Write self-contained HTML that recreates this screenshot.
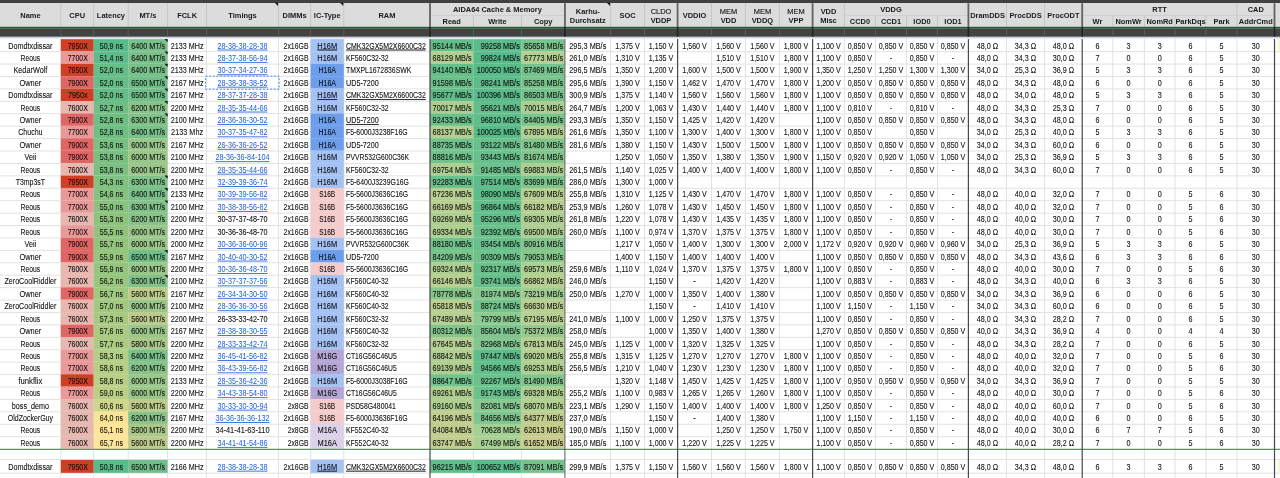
<!DOCTYPE html>
<html lang="de"><head><meta charset="utf-8"><title>DDR5 OC Tabelle</title>
<style>
html,body{margin:0;padding:0;background:#fff;overflow:hidden}
body{width:1280px;height:478px}
svg{display:block}
text{text-anchor:middle;white-space:pre}
text[text-anchor="end"]{text-anchor:end}
text[text-anchor="start"]{text-anchor:start}
.l{fill:#1c5fd4;stroke:none;text-decoration:underline}
.u{text-decoration:underline}
</style></head><body>
<svg width="1280" height="478" viewBox="0 0 1280 478" font-family="'Liberation Sans', sans-serif" font-size="7.2" fill="#222">
<rect x="0.00" y="0.00" width="1280.00" height="478.00" fill="#ffffff"/>
<rect x="0.00" y="51.15" width="1280.00" height="1.00" fill="#e2e2e2"/>
<rect x="0.00" y="63.57" width="1280.00" height="1.00" fill="#e2e2e2"/>
<rect x="0.00" y="75.99" width="1280.00" height="1.00" fill="#e2e2e2"/>
<rect x="0.00" y="88.41" width="1280.00" height="1.00" fill="#e2e2e2"/>
<rect x="0.00" y="100.83" width="1280.00" height="1.00" fill="#e2e2e2"/>
<rect x="0.00" y="113.25" width="1280.00" height="1.00" fill="#e2e2e2"/>
<rect x="0.00" y="125.67" width="1280.00" height="1.00" fill="#e2e2e2"/>
<rect x="0.00" y="138.09" width="1280.00" height="1.00" fill="#e2e2e2"/>
<rect x="0.00" y="150.51" width="1280.00" height="1.00" fill="#e2e2e2"/>
<rect x="0.00" y="162.93" width="1280.00" height="1.00" fill="#e2e2e2"/>
<rect x="0.00" y="175.35" width="1280.00" height="1.00" fill="#e2e2e2"/>
<rect x="0.00" y="187.77" width="1280.00" height="1.00" fill="#e2e2e2"/>
<rect x="0.00" y="200.19" width="1280.00" height="1.00" fill="#e2e2e2"/>
<rect x="0.00" y="212.61" width="1280.00" height="1.00" fill="#e2e2e2"/>
<rect x="0.00" y="225.03" width="1280.00" height="1.00" fill="#e2e2e2"/>
<rect x="0.00" y="237.45" width="1280.00" height="1.00" fill="#e2e2e2"/>
<rect x="0.00" y="249.87" width="1280.00" height="1.00" fill="#e2e2e2"/>
<rect x="0.00" y="262.29" width="1280.00" height="1.00" fill="#e2e2e2"/>
<rect x="0.00" y="274.71" width="1280.00" height="1.00" fill="#e2e2e2"/>
<rect x="0.00" y="287.13" width="1280.00" height="1.00" fill="#e2e2e2"/>
<rect x="0.00" y="299.55" width="1280.00" height="1.00" fill="#e2e2e2"/>
<rect x="0.00" y="311.97" width="1280.00" height="1.00" fill="#e2e2e2"/>
<rect x="0.00" y="324.39" width="1280.00" height="1.00" fill="#e2e2e2"/>
<rect x="0.00" y="336.81" width="1280.00" height="1.00" fill="#e2e2e2"/>
<rect x="0.00" y="349.23" width="1280.00" height="1.00" fill="#e2e2e2"/>
<rect x="0.00" y="361.65" width="1280.00" height="1.00" fill="#e2e2e2"/>
<rect x="0.00" y="374.07" width="1280.00" height="1.00" fill="#e2e2e2"/>
<rect x="0.00" y="386.49" width="1280.00" height="1.00" fill="#e2e2e2"/>
<rect x="0.00" y="398.91" width="1280.00" height="1.00" fill="#e2e2e2"/>
<rect x="0.00" y="411.33" width="1280.00" height="1.00" fill="#e2e2e2"/>
<rect x="0.00" y="423.75" width="1280.00" height="1.00" fill="#e2e2e2"/>
<rect x="0.00" y="436.17" width="1280.00" height="1.00" fill="#e2e2e2"/>
<rect x="0.00" y="459.10" width="1280.00" height="1.00" fill="#e2e2e2"/>
<rect x="0.00" y="472.65" width="1280.00" height="1.00" fill="#e2e2e2"/>
<rect x="60.30" y="39.00" width="1.00" height="439.00" fill="#e2e2e2"/>
<rect x="93.20" y="39.00" width="1.00" height="439.00" fill="#e2e2e2"/>
<rect x="127.70" y="39.00" width="1.00" height="439.00" fill="#e2e2e2"/>
<rect x="167.10" y="39.00" width="1.00" height="439.00" fill="#e2e2e2"/>
<rect x="206.00" y="39.00" width="1.00" height="439.00" fill="#e2e2e2"/>
<rect x="278.00" y="39.00" width="1.00" height="439.00" fill="#e2e2e2"/>
<rect x="310.10" y="39.00" width="1.00" height="439.00" fill="#e2e2e2"/>
<rect x="343.30" y="39.00" width="1.00" height="439.00" fill="#e2e2e2"/>
<rect x="472.90" y="39.00" width="1.00" height="439.00" fill="#e2e2e2"/>
<rect x="521.00" y="39.00" width="1.00" height="439.00" fill="#e2e2e2"/>
<rect x="610.10" y="39.00" width="1.00" height="439.00" fill="#e2e2e2"/>
<rect x="644.00" y="39.00" width="1.00" height="439.00" fill="#e2e2e2"/>
<rect x="711.00" y="39.00" width="1.00" height="439.00" fill="#e2e2e2"/>
<rect x="744.90" y="39.00" width="1.00" height="439.00" fill="#e2e2e2"/>
<rect x="778.90" y="39.00" width="1.00" height="439.00" fill="#e2e2e2"/>
<rect x="843.90" y="39.00" width="1.00" height="439.00" fill="#e2e2e2"/>
<rect x="874.90" y="39.00" width="1.00" height="439.00" fill="#e2e2e2"/>
<rect x="906.00" y="39.00" width="1.00" height="439.00" fill="#e2e2e2"/>
<rect x="937.00" y="39.00" width="1.00" height="439.00" fill="#e2e2e2"/>
<rect x="1006.00" y="39.00" width="1.00" height="439.00" fill="#e2e2e2"/>
<rect x="1044.10" y="39.00" width="1.00" height="439.00" fill="#e2e2e2"/>
<rect x="1112.30" y="39.00" width="1.00" height="439.00" fill="#e2e2e2"/>
<rect x="1143.90" y="39.00" width="1.00" height="439.00" fill="#e2e2e2"/>
<rect x="1174.50" y="39.00" width="1.00" height="439.00" fill="#e2e2e2"/>
<rect x="1205.50" y="39.00" width="1.00" height="439.00" fill="#e2e2e2"/>
<rect x="1236.50" y="39.00" width="1.00" height="439.00" fill="#e2e2e2"/>
<rect x="60.80" y="39.10" width="32.90" height="12.25" fill="#CC4125"/>
<rect x="93.70" y="39.10" width="34.50" height="12.25" fill="#57bb8a"/>
<rect x="128.20" y="39.10" width="39.40" height="12.25" fill="#79c08a"/>
<rect x="310.60" y="39.10" width="33.20" height="12.25" fill="#A4C2F4"/>
<rect x="430.00" y="39.10" width="43.40" height="12.25" fill="#63be89"/>
<rect x="473.40" y="39.10" width="48.10" height="12.25" fill="#5abc8a"/>
<rect x="521.50" y="39.10" width="43.00" height="12.25" fill="#78c48d"/>
<path d="M164.4 39.1H167.6V42.3z" fill="#111"/>
<rect x="60.80" y="51.35" width="32.90" height="12.42" fill="#EA9999"/>
<rect x="93.70" y="51.35" width="34.50" height="12.42" fill="#5dbc89"/>
<rect x="128.20" y="51.35" width="39.40" height="12.42" fill="#79c08a"/>
<rect x="310.60" y="51.35" width="33.20" height="12.42" fill="#A4C2F4"/>
<rect x="430.00" y="51.35" width="43.40" height="12.42" fill="#b3d092"/>
<rect x="473.40" y="51.35" width="48.10" height="12.42" fill="#58bb8a"/>
<rect x="521.50" y="51.35" width="43.00" height="12.42" fill="#b4d092"/>
<path d="M164.4 51.4H167.6V54.6z" fill="#111"/>
<rect x="60.80" y="63.77" width="32.90" height="12.42" fill="#CC4125"/>
<rect x="93.70" y="63.77" width="34.50" height="12.42" fill="#65bd87"/>
<rect x="128.20" y="63.77" width="39.40" height="12.42" fill="#79c08a"/>
<rect x="310.60" y="63.77" width="33.20" height="12.42" fill="#6D9EEB"/>
<rect x="430.00" y="63.77" width="43.40" height="12.42" fill="#65bf89"/>
<rect x="473.40" y="63.77" width="48.10" height="12.42" fill="#57bb8a"/>
<rect x="521.50" y="63.77" width="43.00" height="12.42" fill="#74c38c"/>
<path d="M164.4 63.8H167.6V67.0z" fill="#111"/>
<rect x="60.80" y="76.19" width="32.90" height="12.42" fill="#E06666"/>
<rect x="93.70" y="76.19" width="34.50" height="12.42" fill="#65bd87"/>
<rect x="128.20" y="76.19" width="39.40" height="12.42" fill="#70bf8a"/>
<rect x="310.60" y="76.19" width="33.20" height="12.42" fill="#6D9EEB"/>
<rect x="430.00" y="76.19" width="43.40" height="12.42" fill="#6bc08a"/>
<rect x="473.40" y="76.19" width="48.10" height="12.42" fill="#5cbd8a"/>
<rect x="521.50" y="76.19" width="43.00" height="12.42" fill="#79c48d"/>
<path d="M164.4 76.2H167.6V79.4z" fill="#111"/>
<rect x="60.80" y="88.61" width="32.90" height="12.42" fill="#CC4125"/>
<rect x="93.70" y="88.61" width="34.50" height="12.42" fill="#65bd87"/>
<rect x="128.20" y="88.61" width="39.40" height="12.42" fill="#70bf8a"/>
<rect x="310.60" y="88.61" width="33.20" height="12.42" fill="#A4C2F4"/>
<rect x="430.00" y="88.61" width="43.40" height="12.42" fill="#61be89"/>
<rect x="473.40" y="88.61" width="48.10" height="12.42" fill="#57bb8a"/>
<rect x="521.50" y="88.61" width="43.00" height="12.42" fill="#76c38d"/>
<path d="M164.4 88.6H167.6V91.8z" fill="#111"/>
<rect x="60.80" y="101.03" width="32.90" height="12.42" fill="#E6B8AF"/>
<rect x="93.70" y="101.03" width="34.50" height="12.42" fill="#6ebe85"/>
<rect x="128.20" y="101.03" width="39.40" height="12.42" fill="#89c38a"/>
<rect x="310.60" y="101.03" width="33.20" height="12.42" fill="#A4C2F4"/>
<rect x="430.00" y="101.03" width="43.40" height="12.42" fill="#accf91"/>
<rect x="473.40" y="101.03" width="48.10" height="12.42" fill="#63be8b"/>
<rect x="521.50" y="101.03" width="43.00" height="12.42" fill="#accf91"/>
<path d="M164.4 101.0H167.6V104.2z" fill="#111"/>
<rect x="60.80" y="113.45" width="32.90" height="12.42" fill="#E06666"/>
<rect x="93.70" y="113.45" width="34.50" height="12.42" fill="#6fbf85"/>
<rect x="128.20" y="113.45" width="39.40" height="12.42" fill="#81c28a"/>
<rect x="310.60" y="113.45" width="33.20" height="12.42" fill="#6D9EEB"/>
<rect x="430.00" y="113.45" width="43.40" height="12.42" fill="#69c08a"/>
<rect x="473.40" y="113.45" width="48.10" height="12.42" fill="#60be8b"/>
<rect x="521.50" y="113.45" width="43.00" height="12.42" fill="#7bc48d"/>
<path d="M164.4 113.5H167.6V116.7z" fill="#111"/>
<rect x="60.80" y="125.87" width="32.90" height="12.42" fill="#EA9999"/>
<rect x="93.70" y="125.87" width="34.50" height="12.42" fill="#6fbf85"/>
<rect x="128.20" y="125.87" width="39.40" height="12.42" fill="#79c08a"/>
<rect x="310.60" y="125.87" width="33.20" height="12.42" fill="#6D9EEB"/>
<rect x="430.00" y="125.87" width="43.40" height="12.42" fill="#b3d092"/>
<rect x="473.40" y="125.87" width="48.10" height="12.42" fill="#57bb8a"/>
<rect x="521.50" y="125.87" width="43.00" height="12.42" fill="#b4d092"/>
<rect x="60.80" y="138.29" width="32.90" height="12.42" fill="#E06666"/>
<rect x="93.70" y="138.29" width="34.50" height="12.42" fill="#79c083"/>
<rect x="128.20" y="138.29" width="39.40" height="12.42" fill="#9ac68a"/>
<rect x="310.60" y="138.29" width="33.20" height="12.42" fill="#6D9EEB"/>
<rect x="430.00" y="138.29" width="43.40" height="12.42" fill="#71c28c"/>
<rect x="473.40" y="138.29" width="48.10" height="12.42" fill="#69c08c"/>
<rect x="521.50" y="138.29" width="43.00" height="12.42" fill="#81c58c"/>
<rect x="60.80" y="150.71" width="32.90" height="12.42" fill="#E06666"/>
<rect x="93.70" y="150.71" width="34.50" height="12.42" fill="#7bc082"/>
<rect x="128.20" y="150.71" width="39.40" height="12.42" fill="#9ac68a"/>
<rect x="310.60" y="150.71" width="33.20" height="12.42" fill="#A4C2F4"/>
<rect x="430.00" y="150.71" width="43.40" height="12.42" fill="#71c28c"/>
<rect x="473.40" y="150.71" width="48.10" height="12.42" fill="#68c08c"/>
<rect x="521.50" y="150.71" width="43.00" height="12.42" fill="#80c58c"/>
<rect x="60.80" y="163.13" width="32.90" height="12.42" fill="#E6B8AF"/>
<rect x="93.70" y="163.13" width="34.50" height="12.42" fill="#7bc082"/>
<rect x="128.20" y="163.13" width="39.40" height="12.42" fill="#9ac68a"/>
<rect x="310.60" y="163.13" width="33.20" height="12.42" fill="#A4C2F4"/>
<rect x="430.00" y="163.13" width="43.40" height="12.42" fill="#adcf91"/>
<rect x="473.40" y="163.13" width="48.10" height="12.42" fill="#6dc18c"/>
<rect x="521.50" y="163.13" width="43.00" height="12.42" fill="#accf91"/>
<rect x="60.80" y="175.55" width="32.90" height="12.42" fill="#CC4125"/>
<rect x="93.70" y="175.55" width="34.50" height="12.42" fill="#81c181"/>
<rect x="128.20" y="175.55" width="39.40" height="12.42" fill="#81c28a"/>
<rect x="310.60" y="175.55" width="33.20" height="12.42" fill="#A4C2F4"/>
<rect x="430.00" y="175.55" width="43.40" height="12.42" fill="#69c08a"/>
<rect x="473.40" y="175.55" width="48.10" height="12.42" fill="#5ebd8a"/>
<rect x="521.50" y="175.55" width="43.00" height="12.42" fill="#7cc58c"/>
<path d="M164.4 175.6H167.6V178.8z" fill="#111"/>
<rect x="60.80" y="187.97" width="32.90" height="12.42" fill="#EA9999"/>
<rect x="93.70" y="187.97" width="34.50" height="12.42" fill="#85c280"/>
<rect x="128.20" y="187.97" width="39.40" height="12.42" fill="#79c08a"/>
<rect x="310.60" y="187.97" width="33.20" height="12.42" fill="#F4CCCC"/>
<rect x="430.00" y="187.97" width="43.40" height="12.42" fill="#b6d091"/>
<rect x="473.40" y="187.97" width="48.10" height="12.42" fill="#5dbd8a"/>
<rect x="521.50" y="187.97" width="43.00" height="12.42" fill="#b5d091"/>
<path d="M164.4 188.0H167.6V191.2z" fill="#111"/>
<rect x="60.80" y="200.39" width="32.90" height="12.42" fill="#EA9999"/>
<rect x="93.70" y="200.39" width="34.50" height="12.42" fill="#8ac37f"/>
<rect x="128.20" y="200.39" width="39.40" height="12.42" fill="#81c28a"/>
<rect x="310.60" y="200.39" width="33.20" height="12.42" fill="#F4CCCC"/>
<rect x="430.00" y="200.39" width="43.40" height="12.42" fill="#b9cf90"/>
<rect x="473.40" y="200.39" width="48.10" height="12.42" fill="#60be8b"/>
<rect x="521.50" y="200.39" width="43.00" height="12.42" fill="#b9cf90"/>
<path d="M164.4 200.4H167.6V203.6z" fill="#111"/>
<rect x="60.80" y="212.81" width="32.90" height="12.42" fill="#E6B8AF"/>
<rect x="93.70" y="212.81" width="34.50" height="12.42" fill="#8ec37e"/>
<rect x="128.20" y="212.81" width="39.40" height="12.42" fill="#89c38a"/>
<rect x="310.60" y="212.81" width="33.20" height="12.42" fill="#F4CCCC"/>
<rect x="430.00" y="212.81" width="43.40" height="12.42" fill="#afcf91"/>
<rect x="473.40" y="212.81" width="48.10" height="12.42" fill="#63bf8b"/>
<rect x="521.50" y="212.81" width="43.00" height="12.42" fill="#afcf91"/>
<rect x="60.80" y="225.23" width="32.90" height="12.42" fill="#EA9999"/>
<rect x="93.70" y="225.23" width="34.50" height="12.42" fill="#90c47e"/>
<rect x="128.20" y="225.23" width="39.40" height="12.42" fill="#9ac68a"/>
<rect x="310.60" y="225.23" width="33.20" height="12.42" fill="#F4CCCC"/>
<rect x="430.00" y="225.23" width="43.40" height="12.42" fill="#afcf91"/>
<rect x="473.40" y="225.23" width="48.10" height="12.42" fill="#6ac18c"/>
<rect x="521.50" y="225.23" width="43.00" height="12.42" fill="#aecf91"/>
<rect x="60.80" y="237.65" width="32.90" height="12.42" fill="#E06666"/>
<rect x="93.70" y="237.65" width="34.50" height="12.42" fill="#93c47d"/>
<rect x="128.20" y="237.65" width="39.40" height="12.42" fill="#9ac68a"/>
<rect x="310.60" y="237.65" width="33.20" height="12.42" fill="#A4C2F4"/>
<rect x="430.00" y="237.65" width="43.40" height="12.42" fill="#72c28c"/>
<rect x="473.40" y="237.65" width="48.10" height="12.42" fill="#68c08c"/>
<rect x="521.50" y="237.65" width="43.00" height="12.42" fill="#82c58c"/>
<rect x="60.80" y="250.07" width="32.90" height="12.42" fill="#E06666"/>
<rect x="93.70" y="250.07" width="34.50" height="12.42" fill="#95c57e"/>
<rect x="128.20" y="250.07" width="39.40" height="12.42" fill="#70bf8a"/>
<rect x="310.60" y="250.07" width="33.20" height="12.42" fill="#6D9EEB"/>
<rect x="430.00" y="250.07" width="43.40" height="12.42" fill="#7bc48d"/>
<rect x="473.40" y="250.07" width="48.10" height="12.42" fill="#70c28d"/>
<rect x="521.50" y="250.07" width="43.00" height="12.42" fill="#85c68b"/>
<path d="M164.4 250.1H167.6V253.3z" fill="#111"/>
<rect x="60.80" y="262.49" width="32.90" height="12.42" fill="#E6B8AF"/>
<rect x="93.70" y="262.49" width="34.50" height="12.42" fill="#95c57e"/>
<rect x="128.20" y="262.49" width="39.40" height="12.42" fill="#9ac68a"/>
<rect x="310.60" y="262.49" width="33.20" height="12.42" fill="#F4CCCC"/>
<rect x="430.00" y="262.49" width="43.40" height="12.42" fill="#afcf91"/>
<rect x="473.40" y="262.49" width="48.10" height="12.42" fill="#6bc18c"/>
<rect x="521.50" y="262.49" width="43.00" height="12.42" fill="#aecf91"/>
<rect x="60.80" y="274.91" width="32.90" height="12.42" fill="#E6B8AF"/>
<rect x="93.70" y="274.91" width="34.50" height="12.42" fill="#99c67f"/>
<rect x="128.20" y="274.91" width="39.40" height="12.42" fill="#81c28a"/>
<rect x="310.60" y="274.91" width="33.20" height="12.42" fill="#A4C2F4"/>
<rect x="430.00" y="274.91" width="43.40" height="12.42" fill="#bacf90"/>
<rect x="473.40" y="274.91" width="48.10" height="12.42" fill="#67c08b"/>
<rect x="521.50" y="274.91" width="43.00" height="12.42" fill="#b7cf91"/>
<path d="M164.4 274.9H167.6V278.1z" fill="#111"/>
<rect x="60.80" y="287.33" width="32.90" height="12.42" fill="#E06666"/>
<rect x="93.70" y="287.33" width="34.50" height="12.42" fill="#9fc880"/>
<rect x="128.20" y="287.33" width="39.40" height="12.42" fill="#bccb8a"/>
<rect x="310.60" y="287.33" width="33.20" height="12.42" fill="#A4C2F4"/>
<rect x="430.00" y="287.33" width="43.40" height="12.42" fill="#86c68b"/>
<rect x="473.40" y="287.33" width="48.10" height="12.42" fill="#85c890"/>
<rect x="521.50" y="287.33" width="43.00" height="12.42" fill="#a0cc8f"/>
<rect x="60.80" y="299.75" width="32.90" height="12.42" fill="#E6B8AF"/>
<rect x="93.70" y="299.75" width="34.50" height="12.42" fill="#a3c981"/>
<rect x="128.20" y="299.75" width="39.40" height="12.42" fill="#9ac68a"/>
<rect x="310.60" y="299.75" width="33.20" height="12.42" fill="#A4C2F4"/>
<rect x="430.00" y="299.75" width="43.40" height="12.42" fill="#bbcf90"/>
<rect x="473.40" y="299.75" width="48.10" height="12.42" fill="#74c38d"/>
<rect x="521.50" y="299.75" width="43.00" height="12.42" fill="#b8cf90"/>
<rect x="60.80" y="312.17" width="32.90" height="12.42" fill="#E6B8AF"/>
<rect x="93.70" y="312.17" width="34.50" height="12.42" fill="#a6ca82"/>
<rect x="128.20" y="312.17" width="39.40" height="12.42" fill="#bccb8a"/>
<rect x="310.60" y="312.17" width="33.20" height="12.42" fill="#A4C2F4"/>
<rect x="430.00" y="312.17" width="43.40" height="12.42" fill="#b5d091"/>
<rect x="473.40" y="312.17" width="48.10" height="12.42" fill="#8bca91"/>
<rect x="521.50" y="312.17" width="43.00" height="12.42" fill="#b6d091"/>
<rect x="60.80" y="324.59" width="32.90" height="12.42" fill="#E06666"/>
<rect x="93.70" y="324.59" width="34.50" height="12.42" fill="#aacb83"/>
<rect x="128.20" y="324.59" width="39.40" height="12.42" fill="#9ac68a"/>
<rect x="310.60" y="324.59" width="33.20" height="12.42" fill="#A4C2F4"/>
<rect x="430.00" y="324.59" width="43.40" height="12.42" fill="#83c68b"/>
<rect x="473.40" y="324.59" width="48.10" height="12.42" fill="#7cc58f"/>
<rect x="521.50" y="324.59" width="43.00" height="12.42" fill="#96ca8d"/>
<rect x="60.80" y="337.01" width="32.90" height="12.42" fill="#E6B8AF"/>
<rect x="93.70" y="337.01" width="34.50" height="12.42" fill="#abcb83"/>
<rect x="128.20" y="337.01" width="39.40" height="12.42" fill="#abc88a"/>
<rect x="310.60" y="337.01" width="33.20" height="12.42" fill="#A4C2F4"/>
<rect x="430.00" y="337.01" width="43.40" height="12.42" fill="#b5d092"/>
<rect x="473.40" y="337.01" width="48.10" height="12.42" fill="#82c790"/>
<rect x="521.50" y="337.01" width="43.00" height="12.42" fill="#b4d092"/>
<rect x="60.80" y="349.43" width="32.90" height="12.42" fill="#EA9999"/>
<rect x="93.70" y="349.43" width="34.50" height="12.42" fill="#b3ce85"/>
<rect x="128.20" y="349.43" width="39.40" height="12.42" fill="#79c08a"/>
<rect x="310.60" y="349.43" width="33.20" height="12.42" fill="#B4A7D6"/>
<rect x="430.00" y="349.43" width="43.40" height="12.42" fill="#b0cf92"/>
<rect x="473.40" y="349.43" width="48.10" height="12.42" fill="#5ebd8a"/>
<rect x="521.50" y="349.43" width="43.00" height="12.42" fill="#b0cf91"/>
<rect x="60.80" y="361.85" width="32.90" height="12.42" fill="#EA9999"/>
<rect x="93.70" y="361.85" width="34.50" height="12.42" fill="#b6cf86"/>
<rect x="128.20" y="361.85" width="39.40" height="12.42" fill="#89c38a"/>
<rect x="310.60" y="361.85" width="33.20" height="12.42" fill="#B4A7D6"/>
<rect x="430.00" y="361.85" width="43.40" height="12.42" fill="#afcf91"/>
<rect x="473.40" y="361.85" width="48.10" height="12.42" fill="#65bf8b"/>
<rect x="521.50" y="361.85" width="43.00" height="12.42" fill="#afcf91"/>
<rect x="60.80" y="374.27" width="32.90" height="12.42" fill="#CC4125"/>
<rect x="93.70" y="374.27" width="34.50" height="12.42" fill="#b9cf87"/>
<rect x="128.20" y="374.27" width="39.40" height="12.42" fill="#9ac68a"/>
<rect x="310.60" y="374.27" width="33.20" height="12.42" fill="#A4C2F4"/>
<rect x="430.00" y="374.27" width="43.40" height="12.42" fill="#71c28c"/>
<rect x="473.40" y="374.27" width="48.10" height="12.42" fill="#6bc18c"/>
<rect x="521.50" y="374.27" width="43.00" height="12.42" fill="#80c58c"/>
<rect x="60.80" y="386.69" width="32.90" height="12.42" fill="#EA9999"/>
<rect x="93.70" y="386.69" width="34.50" height="12.42" fill="#bbd087"/>
<rect x="128.20" y="386.69" width="39.40" height="12.42" fill="#9ac68a"/>
<rect x="310.60" y="386.69" width="33.20" height="12.42" fill="#B4A7D6"/>
<rect x="430.00" y="386.69" width="43.40" height="12.42" fill="#afcf91"/>
<rect x="473.40" y="386.69" width="48.10" height="12.42" fill="#6cc18c"/>
<rect x="521.50" y="386.69" width="43.00" height="12.42" fill="#afcf91"/>
<rect x="60.80" y="399.11" width="32.90" height="12.42" fill="#E6B8AF"/>
<rect x="93.70" y="399.11" width="34.50" height="12.42" fill="#ced68c"/>
<rect x="128.20" y="399.11" width="39.40" height="12.42" fill="#bccb8a"/>
<rect x="310.60" y="399.11" width="33.20" height="12.42" fill="#F4CCCC"/>
<rect x="430.00" y="399.11" width="43.40" height="12.42" fill="#afcf91"/>
<rect x="473.40" y="399.11" width="48.10" height="12.42" fill="#85c890"/>
<rect x="521.50" y="399.11" width="43.00" height="12.42" fill="#b3d092"/>
<rect x="60.80" y="411.53" width="32.90" height="12.42" fill="#E6B8AF"/>
<rect x="93.70" y="411.53" width="34.50" height="12.42" fill="#f8e397"/>
<rect x="128.20" y="411.53" width="39.40" height="12.42" fill="#89c38a"/>
<rect x="310.60" y="411.53" width="33.20" height="12.42" fill="#F4CCCC"/>
<rect x="430.00" y="411.53" width="43.40" height="12.42" fill="#c0ce8e"/>
<rect x="473.40" y="411.53" width="48.10" height="12.42" fill="#7ec68f"/>
<rect x="521.50" y="411.53" width="43.00" height="12.42" fill="#bfce8e"/>
<rect x="60.80" y="423.95" width="32.90" height="12.42" fill="#E6B8AF"/>
<rect x="93.70" y="423.95" width="34.50" height="12.42" fill="#ffe599"/>
<rect x="128.20" y="423.95" width="39.40" height="12.42" fill="#abc88a"/>
<rect x="310.60" y="423.95" width="33.20" height="12.42" fill="#D9D2E9"/>
<rect x="430.00" y="423.95" width="43.40" height="12.42" fill="#c0ce8e"/>
<rect x="473.40" y="423.95" width="48.10" height="12.42" fill="#a3d094"/>
<rect x="521.50" y="423.95" width="43.00" height="12.42" fill="#c6cd8c"/>
<rect x="60.80" y="436.37" width="32.90" height="12.42" fill="#E6B8AF"/>
<rect x="93.70" y="436.37" width="34.50" height="12.42" fill="#ffe599"/>
<rect x="128.20" y="436.37" width="39.40" height="12.42" fill="#bccb8a"/>
<rect x="310.60" y="436.37" width="33.20" height="12.42" fill="#D9D2E9"/>
<rect x="430.00" y="436.37" width="43.40" height="12.42" fill="#c2ce8d"/>
<rect x="473.40" y="436.37" width="48.10" height="12.42" fill="#aad194"/>
<rect x="521.50" y="436.37" width="43.00" height="12.42" fill="#c9cc8a"/>
<rect x="60.80" y="459.90" width="32.90" height="12.95" fill="#CC4125"/>
<rect x="93.70" y="459.90" width="34.50" height="12.95" fill="#57bb8a"/>
<rect x="128.20" y="459.90" width="39.40" height="12.95" fill="#70bf8a"/>
<rect x="310.60" y="459.90" width="33.20" height="12.95" fill="#A4C2F4"/>
<rect x="430.00" y="459.90" width="43.40" height="12.95" fill="#5ebd89"/>
<rect x="473.40" y="459.90" width="48.10" height="12.95" fill="#57bb8a"/>
<rect x="521.50" y="459.90" width="43.00" height="12.95" fill="#75c38c"/>
<defs><filter id="b" x="0" y="0" width="100%" height="100%" filterUnits="userSpaceOnUse" primitiveUnits="userSpaceOnUse"><feGaussianBlur stdDeviation="0.35"/></filter></defs>
<g filter="url(#b)"><g transform="scale(1,1.15)" fill="#0c0c0c" stroke="#0c0c0c" stroke-width="0.06">
<text x="30.4" y="42.20" textLength="44.3" lengthAdjust="spacingAndGlyphs">Domdtxdissar</text>
<text x="77.8" y="42.20" textLength="20.2" lengthAdjust="spacingAndGlyphs">7950X</text>
<text x="111.4" y="42.20" textLength="23.2" lengthAdjust="spacingAndGlyphs">50,9 ns</text>
<text x="148.2" y="42.20">6400 MT/s</text>
<text x="187.1" y="42.20">2133 MHz</text>
<text x="242.5" y="42.20" class="l" textLength="50.0" lengthAdjust="spacingAndGlyphs">28-38-38-28-38</text>
<text x="308.5" y="42.20" text-anchor="end" textLength="24.9" lengthAdjust="spacingAndGlyphs">2x16GB</text>
<text x="327.2" y="42.20" class="u" textLength="19.8" lengthAdjust="spacingAndGlyphs">H16M</text>
<text x="346.0" y="42.20" text-anchor="start" class="u" textLength="79.8" lengthAdjust="spacingAndGlyphs">CMK32GX5M2X6600C32</text>
<text x="471.7" y="42.20" text-anchor="end" textLength="39.1" lengthAdjust="spacingAndGlyphs">95144 MB/s</text>
<text x="519.8" y="42.20" text-anchor="end" textLength="39.1" lengthAdjust="spacingAndGlyphs">99258 MB/s</text>
<text x="563.2" y="42.20" text-anchor="end" textLength="39.1" lengthAdjust="spacingAndGlyphs">85658 MB/s</text>
<text x="587.8" y="42.20" textLength="37.0" lengthAdjust="spacingAndGlyphs">295,3 MB/s</text>
<text x="627.5" y="42.20" class="v" textLength="24.4" lengthAdjust="spacingAndGlyphs">1,375 V</text>
<text x="661.0" y="42.20" class="v" textLength="24.4" lengthAdjust="spacingAndGlyphs">1,150 V</text>
<text x="694.5" y="42.20" class="v" textLength="24.4" lengthAdjust="spacingAndGlyphs">1,560 V</text>
<text x="728.5" y="42.20" class="v" textLength="24.4" lengthAdjust="spacingAndGlyphs">1,560 V</text>
<text x="762.4" y="42.20" class="v" textLength="24.4" lengthAdjust="spacingAndGlyphs">1,560 V</text>
<text x="796.0" y="42.20" class="v" textLength="24.4" lengthAdjust="spacingAndGlyphs">1,800 V</text>
<text x="828.5" y="42.20" class="v" textLength="24.4" lengthAdjust="spacingAndGlyphs">1,100 V</text>
<text x="859.9" y="42.20" class="v" textLength="24.4" lengthAdjust="spacingAndGlyphs">0,850 V</text>
<text x="891.0" y="42.20" class="v" textLength="24.4" lengthAdjust="spacingAndGlyphs">0,850 V</text>
<text x="922.0" y="42.20" class="v" textLength="24.4" lengthAdjust="spacingAndGlyphs">0,850 V</text>
<text x="953.0" y="42.20" class="v" textLength="24.4" lengthAdjust="spacingAndGlyphs">0,850 V</text>
<text x="987.5" y="42.20" class="v">48,0 Ω</text>
<text x="1025.5" y="42.20" class="v">34,3 Ω</text>
<text x="1063.4" y="42.20" class="v">48,0 Ω</text>
<text x="1097.5" y="42.20">6</text>
<text x="1128.6" y="42.20">3</text>
<text x="1159.7" y="42.20">3</text>
<text x="1190.5" y="42.20">6</text>
<text x="1221.5" y="42.20">5</text>
<text x="1255.8" y="42.20">30</text>
<text x="30.4" y="52.92" textLength="19.6" lengthAdjust="spacingAndGlyphs">Reous</text>
<text x="77.8" y="52.92" textLength="20.2" lengthAdjust="spacingAndGlyphs">7700X</text>
<text x="111.4" y="52.92" textLength="23.2" lengthAdjust="spacingAndGlyphs">51,4 ns</text>
<text x="148.2" y="52.92">6400 MT/s</text>
<text x="187.1" y="52.92">2133 MHz</text>
<text x="242.5" y="52.92" class="l" textLength="50.0" lengthAdjust="spacingAndGlyphs">28-37-38-56-94</text>
<text x="308.5" y="52.92" text-anchor="end" textLength="24.9" lengthAdjust="spacingAndGlyphs">2x16GB</text>
<text x="327.2" y="52.92" textLength="19.8" lengthAdjust="spacingAndGlyphs">H16M</text>
<text x="346.0" y="52.92" text-anchor="start" textLength="42.7" lengthAdjust="spacingAndGlyphs">KF560C32-32</text>
<text x="471.7" y="52.92" text-anchor="end" textLength="39.1" lengthAdjust="spacingAndGlyphs">68129 MB/s</text>
<text x="519.8" y="52.92" text-anchor="end" textLength="39.1" lengthAdjust="spacingAndGlyphs">99824 MB/s</text>
<text x="563.2" y="52.92" text-anchor="end" textLength="39.1" lengthAdjust="spacingAndGlyphs">67773 MB/s</text>
<text x="587.8" y="52.92" textLength="37.0" lengthAdjust="spacingAndGlyphs">261,0 MB/s</text>
<text x="627.5" y="52.92" class="v" textLength="24.4" lengthAdjust="spacingAndGlyphs">1,310 V</text>
<text x="661.0" y="52.92" class="v" textLength="24.4" lengthAdjust="spacingAndGlyphs">1,135 V</text>
<text x="728.5" y="52.92" class="v" textLength="24.4" lengthAdjust="spacingAndGlyphs">1,510 V</text>
<text x="762.4" y="52.92" class="v" textLength="24.4" lengthAdjust="spacingAndGlyphs">1,510 V</text>
<text x="796.0" y="52.92" class="v" textLength="24.4" lengthAdjust="spacingAndGlyphs">1,800 V</text>
<text x="828.5" y="52.92" class="v" textLength="24.4" lengthAdjust="spacingAndGlyphs">1,100 V</text>
<text x="859.9" y="52.92" class="v" textLength="24.4" lengthAdjust="spacingAndGlyphs">0,850 V</text>
<text x="891.0" y="52.92">-</text>
<text x="922.0" y="52.92" class="v" textLength="24.4" lengthAdjust="spacingAndGlyphs">0,850 V</text>
<text x="953.0" y="52.92">-</text>
<text x="987.5" y="52.92" class="v">48,0 Ω</text>
<text x="1025.5" y="52.92" class="v">34,3 Ω</text>
<text x="1063.4" y="52.92" class="v">30,0 Ω</text>
<text x="1097.5" y="52.92">7</text>
<text x="1128.6" y="52.92">0</text>
<text x="1159.7" y="52.92">0</text>
<text x="1190.5" y="52.92">6</text>
<text x="1221.5" y="52.92">5</text>
<text x="1255.8" y="52.92">30</text>
<text x="30.4" y="63.72" textLength="33.9" lengthAdjust="spacingAndGlyphs">KedarWolf</text>
<text x="77.8" y="63.72" textLength="20.2" lengthAdjust="spacingAndGlyphs">7950X</text>
<text x="111.4" y="63.72" textLength="23.2" lengthAdjust="spacingAndGlyphs">52,0 ns</text>
<text x="148.2" y="63.72">6400 MT/s</text>
<text x="187.1" y="63.72">2133 MHz</text>
<text x="242.5" y="63.72" class="l" textLength="50.0" lengthAdjust="spacingAndGlyphs">30-37-34-27-36</text>
<text x="308.5" y="63.72" text-anchor="end" textLength="24.9" lengthAdjust="spacingAndGlyphs">2x16GB</text>
<text x="327.2" y="63.72" textLength="17.6" lengthAdjust="spacingAndGlyphs">H16A</text>
<text x="346.0" y="63.72" text-anchor="start" textLength="65.3" lengthAdjust="spacingAndGlyphs">TMXPL1672836SWK</text>
<text x="471.7" y="63.72" text-anchor="end" textLength="39.1" lengthAdjust="spacingAndGlyphs">94140 MB/s</text>
<text x="519.8" y="63.72" text-anchor="end" textLength="43.1" lengthAdjust="spacingAndGlyphs">100050 MB/s</text>
<text x="563.2" y="63.72" text-anchor="end" textLength="39.1" lengthAdjust="spacingAndGlyphs">87469 MB/s</text>
<text x="587.8" y="63.72" textLength="37.0" lengthAdjust="spacingAndGlyphs">296,5 MB/s</text>
<text x="627.5" y="63.72" class="v" textLength="24.4" lengthAdjust="spacingAndGlyphs">1,350 V</text>
<text x="661.0" y="63.72" class="v" textLength="24.4" lengthAdjust="spacingAndGlyphs">1,200 V</text>
<text x="694.5" y="63.72" class="v" textLength="24.4" lengthAdjust="spacingAndGlyphs">1,600 V</text>
<text x="728.5" y="63.72" class="v" textLength="24.4" lengthAdjust="spacingAndGlyphs">1,500 V</text>
<text x="762.4" y="63.72" class="v" textLength="24.4" lengthAdjust="spacingAndGlyphs">1,500 V</text>
<text x="796.0" y="63.72" class="v" textLength="24.4" lengthAdjust="spacingAndGlyphs">1,900 V</text>
<text x="828.5" y="63.72" class="v" textLength="24.4" lengthAdjust="spacingAndGlyphs">1,350 V</text>
<text x="859.9" y="63.72" class="v" textLength="24.4" lengthAdjust="spacingAndGlyphs">1,250 V</text>
<text x="891.0" y="63.72" class="v" textLength="24.4" lengthAdjust="spacingAndGlyphs">1,250 V</text>
<text x="922.0" y="63.72" class="v" textLength="24.4" lengthAdjust="spacingAndGlyphs">1,300 V</text>
<text x="953.0" y="63.72" class="v" textLength="24.4" lengthAdjust="spacingAndGlyphs">1,300 V</text>
<text x="987.5" y="63.72" class="v">34,0 Ω</text>
<text x="1025.5" y="63.72" class="v">25,3 Ω</text>
<text x="1063.4" y="63.72" class="v">36,9 Ω</text>
<text x="1097.5" y="63.72">5</text>
<text x="1128.6" y="63.72">3</text>
<text x="1159.7" y="63.72">3</text>
<text x="1190.5" y="63.72">6</text>
<text x="1221.5" y="63.72">5</text>
<text x="1255.8" y="63.72">30</text>
<text x="30.4" y="74.52" textLength="21.9" lengthAdjust="spacingAndGlyphs">Owner</text>
<text x="77.8" y="74.52" textLength="20.2" lengthAdjust="spacingAndGlyphs">7900X</text>
<text x="111.4" y="74.52" textLength="23.2" lengthAdjust="spacingAndGlyphs">52,0 ns</text>
<text x="148.2" y="74.52">6500 MT/s</text>
<text x="187.1" y="74.52">2167 MHz</text>
<text x="242.5" y="74.52" class="l" textLength="50.0" lengthAdjust="spacingAndGlyphs">28-38-38-38-52</text>
<text x="308.5" y="74.52" text-anchor="end" textLength="24.9" lengthAdjust="spacingAndGlyphs">2x16GB</text>
<text x="327.2" y="74.52" textLength="17.6" lengthAdjust="spacingAndGlyphs">H16A</text>
<text x="346.0" y="74.52" text-anchor="start">UD5-7200</text>
<text x="471.7" y="74.52" text-anchor="end" textLength="39.1" lengthAdjust="spacingAndGlyphs">91598 MB/s</text>
<text x="519.8" y="74.52" text-anchor="end" textLength="39.1" lengthAdjust="spacingAndGlyphs">98241 MB/s</text>
<text x="563.2" y="74.52" text-anchor="end" textLength="39.1" lengthAdjust="spacingAndGlyphs">85258 MB/s</text>
<text x="587.8" y="74.52" textLength="37.0" lengthAdjust="spacingAndGlyphs">295,6 MB/s</text>
<text x="627.5" y="74.52" class="v" textLength="24.4" lengthAdjust="spacingAndGlyphs">1,390 V</text>
<text x="661.0" y="74.52" class="v" textLength="24.4" lengthAdjust="spacingAndGlyphs">1,150 V</text>
<text x="694.5" y="74.52" class="v" textLength="24.4" lengthAdjust="spacingAndGlyphs">1,462 V</text>
<text x="728.5" y="74.52" class="v" textLength="24.4" lengthAdjust="spacingAndGlyphs">1,470 V</text>
<text x="762.4" y="74.52" class="v" textLength="24.4" lengthAdjust="spacingAndGlyphs">1,470 V</text>
<text x="796.0" y="74.52" class="v" textLength="24.4" lengthAdjust="spacingAndGlyphs">1,800 V</text>
<text x="828.5" y="74.52" class="v" textLength="24.4" lengthAdjust="spacingAndGlyphs">1,200 V</text>
<text x="859.9" y="74.52" class="v" textLength="24.4" lengthAdjust="spacingAndGlyphs">0,850 V</text>
<text x="891.0" y="74.52" class="v" textLength="24.4" lengthAdjust="spacingAndGlyphs">0,850 V</text>
<text x="922.0" y="74.52" class="v" textLength="24.4" lengthAdjust="spacingAndGlyphs">0,850 V</text>
<text x="953.0" y="74.52" class="v" textLength="24.4" lengthAdjust="spacingAndGlyphs">0,850 V</text>
<text x="987.5" y="74.52" class="v">48,0 Ω</text>
<text x="1025.5" y="74.52" class="v">34,3 Ω</text>
<text x="1063.4" y="74.52" class="v">48,0 Ω</text>
<text x="1097.5" y="74.52">6</text>
<text x="1128.6" y="74.52">0</text>
<text x="1159.7" y="74.52">0</text>
<text x="1190.5" y="74.52">6</text>
<text x="1221.5" y="74.52">5</text>
<text x="1255.8" y="74.52">30</text>
<text x="30.4" y="85.32" textLength="44.3" lengthAdjust="spacingAndGlyphs">Domdtxdissar</text>
<text x="77.8" y="85.32">7950x</text>
<text x="111.4" y="85.32" textLength="23.2" lengthAdjust="spacingAndGlyphs">52,0 ns</text>
<text x="148.2" y="85.32">6500 MT/s</text>
<text x="187.1" y="85.32">2167 MHz</text>
<text x="242.5" y="85.32" class="l" textLength="50.0" lengthAdjust="spacingAndGlyphs">28-37-37-28-38</text>
<text x="308.5" y="85.32" text-anchor="end" textLength="24.9" lengthAdjust="spacingAndGlyphs">2x16GB</text>
<text x="327.2" y="85.32" class="u" textLength="19.8" lengthAdjust="spacingAndGlyphs">H16M</text>
<text x="346.0" y="85.32" text-anchor="start" class="u" textLength="79.8" lengthAdjust="spacingAndGlyphs">CMK32GX5M2X6600C32</text>
<text x="471.7" y="85.32" text-anchor="end" textLength="39.1" lengthAdjust="spacingAndGlyphs">95677 MB/s</text>
<text x="519.8" y="85.32" text-anchor="end" textLength="43.1" lengthAdjust="spacingAndGlyphs">100396 MB/s</text>
<text x="563.2" y="85.32" text-anchor="end" textLength="39.1" lengthAdjust="spacingAndGlyphs">86503 MB/s</text>
<text x="587.8" y="85.32" textLength="37.0" lengthAdjust="spacingAndGlyphs">300,9 MB/s</text>
<text x="627.5" y="85.32" class="v" textLength="24.4" lengthAdjust="spacingAndGlyphs">1,375 V</text>
<text x="661.0" y="85.32" class="v" textLength="24.4" lengthAdjust="spacingAndGlyphs">1,140 V</text>
<text x="694.5" y="85.32" class="v" textLength="24.4" lengthAdjust="spacingAndGlyphs">1,560 V</text>
<text x="728.5" y="85.32" class="v" textLength="24.4" lengthAdjust="spacingAndGlyphs">1,560 V</text>
<text x="762.4" y="85.32" class="v" textLength="24.4" lengthAdjust="spacingAndGlyphs">1,560 V</text>
<text x="796.0" y="85.32" class="v" textLength="24.4" lengthAdjust="spacingAndGlyphs">1,800 V</text>
<text x="828.5" y="85.32" class="v" textLength="24.4" lengthAdjust="spacingAndGlyphs">1,100 V</text>
<text x="859.9" y="85.32" class="v" textLength="24.4" lengthAdjust="spacingAndGlyphs">0,850 V</text>
<text x="891.0" y="85.32" class="v" textLength="24.4" lengthAdjust="spacingAndGlyphs">0,850 V</text>
<text x="922.0" y="85.32" class="v" textLength="24.4" lengthAdjust="spacingAndGlyphs">0,850 V</text>
<text x="953.0" y="85.32" class="v" textLength="24.4" lengthAdjust="spacingAndGlyphs">0,850 V</text>
<text x="987.5" y="85.32" class="v">48,0 Ω</text>
<text x="1025.5" y="85.32" class="v">34,0 Ω</text>
<text x="1063.4" y="85.32" class="v">48,0 Ω</text>
<text x="1097.5" y="85.32">5</text>
<text x="1128.6" y="85.32">3</text>
<text x="1159.7" y="85.32">3</text>
<text x="1190.5" y="85.32">6</text>
<text x="1221.5" y="85.32">5</text>
<text x="1255.8" y="85.32">30</text>
<text x="30.4" y="96.12" textLength="19.6" lengthAdjust="spacingAndGlyphs">Reous</text>
<text x="77.8" y="96.12" textLength="20.2" lengthAdjust="spacingAndGlyphs">7600X</text>
<text x="111.4" y="96.12" textLength="23.2" lengthAdjust="spacingAndGlyphs">52,7 ns</text>
<text x="148.2" y="96.12">6200 MT/s</text>
<text x="187.1" y="96.12">2200 MHz</text>
<text x="242.5" y="96.12" class="l" textLength="50.0" lengthAdjust="spacingAndGlyphs">28-35-35-44-66</text>
<text x="308.5" y="96.12" text-anchor="end" textLength="24.9" lengthAdjust="spacingAndGlyphs">2x16GB</text>
<text x="327.2" y="96.12" textLength="19.8" lengthAdjust="spacingAndGlyphs">H16M</text>
<text x="346.0" y="96.12" text-anchor="start" textLength="42.7" lengthAdjust="spacingAndGlyphs">KF560C32-32</text>
<text x="471.7" y="96.12" text-anchor="end" textLength="39.1" lengthAdjust="spacingAndGlyphs">70017 MB/s</text>
<text x="519.8" y="96.12" text-anchor="end" textLength="39.1" lengthAdjust="spacingAndGlyphs">95621 MB/s</text>
<text x="563.2" y="96.12" text-anchor="end" textLength="39.1" lengthAdjust="spacingAndGlyphs">70015 MB/s</text>
<text x="587.8" y="96.12" textLength="37.0" lengthAdjust="spacingAndGlyphs">264,7 MB/s</text>
<text x="627.5" y="96.12" class="v" textLength="24.4" lengthAdjust="spacingAndGlyphs">1,200 V</text>
<text x="661.0" y="96.12" class="v" textLength="24.4" lengthAdjust="spacingAndGlyphs">1,063 V</text>
<text x="694.5" y="96.12" class="v" textLength="24.4" lengthAdjust="spacingAndGlyphs">1,430 V</text>
<text x="728.5" y="96.12" class="v" textLength="24.4" lengthAdjust="spacingAndGlyphs">1,440 V</text>
<text x="762.4" y="96.12" class="v" textLength="24.4" lengthAdjust="spacingAndGlyphs">1,440 V</text>
<text x="796.0" y="96.12" class="v" textLength="24.4" lengthAdjust="spacingAndGlyphs">1,800 V</text>
<text x="828.5" y="96.12" class="v" textLength="24.4" lengthAdjust="spacingAndGlyphs">1,100 V</text>
<text x="859.9" y="96.12" class="v" textLength="24.4" lengthAdjust="spacingAndGlyphs">0,810 V</text>
<text x="891.0" y="96.12">-</text>
<text x="922.0" y="96.12" class="v" textLength="24.4" lengthAdjust="spacingAndGlyphs">0,810 V</text>
<text x="953.0" y="96.12">-</text>
<text x="987.5" y="96.12" class="v">48,0 Ω</text>
<text x="1025.5" y="96.12" class="v">34,3 Ω</text>
<text x="1063.4" y="96.12" class="v">25,3 Ω</text>
<text x="1097.5" y="96.12">7</text>
<text x="1128.6" y="96.12">0</text>
<text x="1159.7" y="96.12">0</text>
<text x="1190.5" y="96.12">6</text>
<text x="1221.5" y="96.12">5</text>
<text x="1255.8" y="96.12">30</text>
<text x="30.4" y="106.92" textLength="21.9" lengthAdjust="spacingAndGlyphs">Owner</text>
<text x="77.8" y="106.92" textLength="20.2" lengthAdjust="spacingAndGlyphs">7900X</text>
<text x="111.4" y="106.92" textLength="23.2" lengthAdjust="spacingAndGlyphs">52,8 ns</text>
<text x="148.2" y="106.92">6300 MT/s</text>
<text x="187.1" y="106.92">2100 MHz</text>
<text x="242.5" y="106.92" class="l" textLength="50.0" lengthAdjust="spacingAndGlyphs">28-36-36-30-52</text>
<text x="308.5" y="106.92" text-anchor="end" textLength="24.9" lengthAdjust="spacingAndGlyphs">2x16GB</text>
<text x="327.2" y="106.92" textLength="17.6" lengthAdjust="spacingAndGlyphs">H16A</text>
<text x="346.0" y="106.92" text-anchor="start" class="u">UD5-7200</text>
<text x="471.7" y="106.92" text-anchor="end" textLength="39.1" lengthAdjust="spacingAndGlyphs">92433 MB/s</text>
<text x="519.8" y="106.92" text-anchor="end" textLength="39.1" lengthAdjust="spacingAndGlyphs">96810 MB/s</text>
<text x="563.2" y="106.92" text-anchor="end" textLength="39.1" lengthAdjust="spacingAndGlyphs">84405 MB/s</text>
<text x="587.8" y="106.92" textLength="37.0" lengthAdjust="spacingAndGlyphs">293,3 MB/s</text>
<text x="627.5" y="106.92" class="v" textLength="24.4" lengthAdjust="spacingAndGlyphs">1,350 V</text>
<text x="661.0" y="106.92" class="v" textLength="24.4" lengthAdjust="spacingAndGlyphs">1,150 V</text>
<text x="694.5" y="106.92" class="v" textLength="24.4" lengthAdjust="spacingAndGlyphs">1,425 V</text>
<text x="728.5" y="106.92" class="v" textLength="24.4" lengthAdjust="spacingAndGlyphs">1,420 V</text>
<text x="762.4" y="106.92" class="v" textLength="24.4" lengthAdjust="spacingAndGlyphs">1,420 V</text>
<text x="828.5" y="106.92" class="v" textLength="24.4" lengthAdjust="spacingAndGlyphs">1,100 V</text>
<text x="859.9" y="106.92" class="v" textLength="24.4" lengthAdjust="spacingAndGlyphs">0,850 V</text>
<text x="891.0" y="106.92" class="v" textLength="24.4" lengthAdjust="spacingAndGlyphs">0,850 V</text>
<text x="922.0" y="106.92" class="v" textLength="24.4" lengthAdjust="spacingAndGlyphs">0,850 V</text>
<text x="953.0" y="106.92" class="v" textLength="24.4" lengthAdjust="spacingAndGlyphs">0,850 V</text>
<text x="987.5" y="106.92" class="v">48,0 Ω</text>
<text x="1025.5" y="106.92" class="v">34,3 Ω</text>
<text x="1063.4" y="106.92" class="v">48,0 Ω</text>
<text x="1097.5" y="106.92">6</text>
<text x="1128.6" y="106.92">0</text>
<text x="1159.7" y="106.92">0</text>
<text x="1190.5" y="106.92">6</text>
<text x="1221.5" y="106.92">5</text>
<text x="1255.8" y="106.92">30</text>
<text x="30.4" y="117.72" textLength="24.3" lengthAdjust="spacingAndGlyphs">Chuchu</text>
<text x="77.8" y="117.72" textLength="20.2" lengthAdjust="spacingAndGlyphs">7700X</text>
<text x="111.4" y="117.72" textLength="23.2" lengthAdjust="spacingAndGlyphs">52,8 ns</text>
<text x="148.2" y="117.72">6400 MT/s</text>
<text x="187.1" y="117.72" textLength="32.0" lengthAdjust="spacingAndGlyphs">2133 Mhz</text>
<text x="242.5" y="117.72" class="l" textLength="50.0" lengthAdjust="spacingAndGlyphs">30-37-35-47-82</text>
<text x="308.5" y="117.72" text-anchor="end" textLength="24.9" lengthAdjust="spacingAndGlyphs">2x16GB</text>
<text x="327.2" y="117.72" textLength="17.6" lengthAdjust="spacingAndGlyphs">H16A</text>
<text x="346.0" y="117.72" text-anchor="start" textLength="61.6" lengthAdjust="spacingAndGlyphs">F5-6000J3238F16G</text>
<text x="471.7" y="117.72" text-anchor="end" textLength="39.1" lengthAdjust="spacingAndGlyphs">68137 MB/s</text>
<text x="519.8" y="117.72" text-anchor="end" textLength="43.1" lengthAdjust="spacingAndGlyphs">100025 MB/s</text>
<text x="563.2" y="117.72" text-anchor="end" textLength="39.1" lengthAdjust="spacingAndGlyphs">67895 MB/s</text>
<text x="587.8" y="117.72" textLength="37.0" lengthAdjust="spacingAndGlyphs">261,6 MB/s</text>
<text x="627.5" y="117.72" class="v" textLength="24.4" lengthAdjust="spacingAndGlyphs">1,350 V</text>
<text x="661.0" y="117.72" class="v" textLength="24.4" lengthAdjust="spacingAndGlyphs">1,100 V</text>
<text x="694.5" y="117.72" class="v" textLength="24.4" lengthAdjust="spacingAndGlyphs">1,300 V</text>
<text x="728.5" y="117.72" class="v" textLength="24.4" lengthAdjust="spacingAndGlyphs">1,400 V</text>
<text x="762.4" y="117.72" class="v" textLength="24.4" lengthAdjust="spacingAndGlyphs">1,300 V</text>
<text x="796.0" y="117.72" class="v" textLength="24.4" lengthAdjust="spacingAndGlyphs">1,800 V</text>
<text x="828.5" y="117.72" class="v" textLength="24.4" lengthAdjust="spacingAndGlyphs">1,100 V</text>
<text x="859.9" y="117.72" class="v" textLength="24.4" lengthAdjust="spacingAndGlyphs">0,850 V</text>
<text x="922.0" y="117.72" class="v" textLength="24.4" lengthAdjust="spacingAndGlyphs">0,850 V</text>
<text x="987.5" y="117.72" class="v">34,0 Ω</text>
<text x="1025.5" y="117.72" class="v">25,3 Ω</text>
<text x="1063.4" y="117.72" class="v">40,0 Ω</text>
<text x="1097.5" y="117.72">5</text>
<text x="1128.6" y="117.72">3</text>
<text x="1159.7" y="117.72">3</text>
<text x="1190.5" y="117.72">6</text>
<text x="1221.5" y="117.72">5</text>
<text x="1255.8" y="117.72">30</text>
<text x="30.4" y="128.52" textLength="21.9" lengthAdjust="spacingAndGlyphs">Owner</text>
<text x="77.8" y="128.52" textLength="20.2" lengthAdjust="spacingAndGlyphs">7900X</text>
<text x="111.4" y="128.52" textLength="23.2" lengthAdjust="spacingAndGlyphs">53,6 ns</text>
<text x="148.2" y="128.52">6000 MT/s</text>
<text x="187.1" y="128.52">2167 MHz</text>
<text x="242.5" y="128.52" class="l" textLength="50.0" lengthAdjust="spacingAndGlyphs">26-36-36-26-52</text>
<text x="308.5" y="128.52" text-anchor="end" textLength="24.9" lengthAdjust="spacingAndGlyphs">2x16GB</text>
<text x="327.2" y="128.52" textLength="17.6" lengthAdjust="spacingAndGlyphs">H16A</text>
<text x="346.0" y="128.52" text-anchor="start">UD5-7200</text>
<text x="471.7" y="128.52" text-anchor="end" textLength="39.1" lengthAdjust="spacingAndGlyphs">88735 MB/s</text>
<text x="519.8" y="128.52" text-anchor="end" textLength="39.1" lengthAdjust="spacingAndGlyphs">93122 MB/s</text>
<text x="563.2" y="128.52" text-anchor="end" textLength="39.1" lengthAdjust="spacingAndGlyphs">81480 MB/s</text>
<text x="587.8" y="128.52" textLength="37.0" lengthAdjust="spacingAndGlyphs">281,6 MB/s</text>
<text x="627.5" y="128.52" class="v" textLength="24.4" lengthAdjust="spacingAndGlyphs">1,380 V</text>
<text x="661.0" y="128.52" class="v" textLength="24.4" lengthAdjust="spacingAndGlyphs">1,150 V</text>
<text x="694.5" y="128.52" class="v" textLength="24.4" lengthAdjust="spacingAndGlyphs">1,430 V</text>
<text x="728.5" y="128.52" class="v" textLength="24.4" lengthAdjust="spacingAndGlyphs">1,500 V</text>
<text x="762.4" y="128.52" class="v" textLength="24.4" lengthAdjust="spacingAndGlyphs">1,500 V</text>
<text x="796.0" y="128.52" class="v" textLength="24.4" lengthAdjust="spacingAndGlyphs">1,800 V</text>
<text x="828.5" y="128.52" class="v" textLength="24.4" lengthAdjust="spacingAndGlyphs">1,100 V</text>
<text x="859.9" y="128.52" class="v" textLength="24.4" lengthAdjust="spacingAndGlyphs">0,850 V</text>
<text x="891.0" y="128.52" class="v" textLength="24.4" lengthAdjust="spacingAndGlyphs">0,850 V</text>
<text x="922.0" y="128.52" class="v" textLength="24.4" lengthAdjust="spacingAndGlyphs">0,850 V</text>
<text x="953.0" y="128.52" class="v" textLength="24.4" lengthAdjust="spacingAndGlyphs">0,850 V</text>
<text x="987.5" y="128.52" class="v">34,0 Ω</text>
<text x="1025.5" y="128.52" class="v">34,3 Ω</text>
<text x="1063.4" y="128.52" class="v">60,0 Ω</text>
<text x="1097.5" y="128.52">6</text>
<text x="1128.6" y="128.52">0</text>
<text x="1159.7" y="128.52">0</text>
<text x="1190.5" y="128.52">6</text>
<text x="1221.5" y="128.52">5</text>
<text x="1255.8" y="128.52">30</text>
<text x="30.4" y="139.32">Veii</text>
<text x="77.8" y="139.32" textLength="20.2" lengthAdjust="spacingAndGlyphs">7900X</text>
<text x="111.4" y="139.32" textLength="23.2" lengthAdjust="spacingAndGlyphs">53,8 ns</text>
<text x="148.2" y="139.32">6000 MT/s</text>
<text x="187.1" y="139.32">2100 MHz</text>
<text x="242.5" y="139.32" class="l" textLength="54.1" lengthAdjust="spacingAndGlyphs">28-36-36-84-104</text>
<text x="308.5" y="139.32" text-anchor="end" textLength="24.9" lengthAdjust="spacingAndGlyphs">2x16GB</text>
<text x="327.2" y="139.32" textLength="19.8" lengthAdjust="spacingAndGlyphs">H16M</text>
<text x="346.0" y="139.32" text-anchor="start" textLength="63.1" lengthAdjust="spacingAndGlyphs">PVVR532G600C36K</text>
<text x="471.7" y="139.32" text-anchor="end" textLength="39.1" lengthAdjust="spacingAndGlyphs">88816 MB/s</text>
<text x="519.8" y="139.32" text-anchor="end" textLength="39.1" lengthAdjust="spacingAndGlyphs">93443 MB/s</text>
<text x="563.2" y="139.32" text-anchor="end" textLength="39.1" lengthAdjust="spacingAndGlyphs">81674 MB/s</text>
<text x="627.5" y="139.32" class="v" textLength="24.4" lengthAdjust="spacingAndGlyphs">1,250 V</text>
<text x="661.0" y="139.32" class="v" textLength="24.4" lengthAdjust="spacingAndGlyphs">1,050 V</text>
<text x="694.5" y="139.32" class="v" textLength="24.4" lengthAdjust="spacingAndGlyphs">1,350 V</text>
<text x="728.5" y="139.32" class="v" textLength="24.4" lengthAdjust="spacingAndGlyphs">1,380 V</text>
<text x="762.4" y="139.32" class="v" textLength="24.4" lengthAdjust="spacingAndGlyphs">1,350 V</text>
<text x="796.0" y="139.32" class="v" textLength="24.4" lengthAdjust="spacingAndGlyphs">1,900 V</text>
<text x="828.5" y="139.32" class="v" textLength="24.4" lengthAdjust="spacingAndGlyphs">1,150 V</text>
<text x="859.9" y="139.32" class="v" textLength="24.4" lengthAdjust="spacingAndGlyphs">0,920 V</text>
<text x="891.0" y="139.32" class="v" textLength="24.4" lengthAdjust="spacingAndGlyphs">0,920 V</text>
<text x="922.0" y="139.32" class="v" textLength="24.4" lengthAdjust="spacingAndGlyphs">1,050 V</text>
<text x="953.0" y="139.32" class="v" textLength="24.4" lengthAdjust="spacingAndGlyphs">1,050 V</text>
<text x="987.5" y="139.32" class="v">34,0 Ω</text>
<text x="1025.5" y="139.32" class="v">25,3 Ω</text>
<text x="1063.4" y="139.32" class="v">36,9 Ω</text>
<text x="1097.5" y="139.32">5</text>
<text x="1128.6" y="139.32">3</text>
<text x="1159.7" y="139.32">3</text>
<text x="1190.5" y="139.32">6</text>
<text x="1221.5" y="139.32">5</text>
<text x="1255.8" y="139.32">30</text>
<text x="30.4" y="150.12" textLength="19.6" lengthAdjust="spacingAndGlyphs">Reous</text>
<text x="77.8" y="150.12" textLength="20.2" lengthAdjust="spacingAndGlyphs">7600X</text>
<text x="111.4" y="150.12" textLength="23.2" lengthAdjust="spacingAndGlyphs">53,8 ns</text>
<text x="148.2" y="150.12">6000 MT/s</text>
<text x="187.1" y="150.12">2200 MHz</text>
<text x="242.5" y="150.12" class="l" textLength="50.0" lengthAdjust="spacingAndGlyphs">28-35-35-44-66</text>
<text x="308.5" y="150.12" text-anchor="end" textLength="24.9" lengthAdjust="spacingAndGlyphs">2x16GB</text>
<text x="327.2" y="150.12" textLength="19.8" lengthAdjust="spacingAndGlyphs">H16M</text>
<text x="346.0" y="150.12" text-anchor="start" textLength="42.7" lengthAdjust="spacingAndGlyphs">KF560C32-32</text>
<text x="471.7" y="150.12" text-anchor="end" textLength="39.1" lengthAdjust="spacingAndGlyphs">69754 MB/s</text>
<text x="519.8" y="150.12" text-anchor="end" textLength="39.1" lengthAdjust="spacingAndGlyphs">91485 MB/s</text>
<text x="563.2" y="150.12" text-anchor="end" textLength="39.1" lengthAdjust="spacingAndGlyphs">69883 MB/s</text>
<text x="587.8" y="150.12" textLength="37.0" lengthAdjust="spacingAndGlyphs">261,5 MB/s</text>
<text x="627.5" y="150.12" class="v" textLength="24.4" lengthAdjust="spacingAndGlyphs">1,140 V</text>
<text x="661.0" y="150.12" class="v" textLength="24.4" lengthAdjust="spacingAndGlyphs">1,025 V</text>
<text x="694.5" y="150.12" class="v" textLength="24.4" lengthAdjust="spacingAndGlyphs">1,400 V</text>
<text x="728.5" y="150.12" class="v" textLength="24.4" lengthAdjust="spacingAndGlyphs">1,400 V</text>
<text x="762.4" y="150.12" class="v" textLength="24.4" lengthAdjust="spacingAndGlyphs">1,400 V</text>
<text x="796.0" y="150.12" class="v" textLength="24.4" lengthAdjust="spacingAndGlyphs">1,800 V</text>
<text x="828.5" y="150.12" class="v" textLength="24.4" lengthAdjust="spacingAndGlyphs">1,100 V</text>
<text x="859.9" y="150.12" class="v" textLength="24.4" lengthAdjust="spacingAndGlyphs">0,850 V</text>
<text x="891.0" y="150.12">-</text>
<text x="922.0" y="150.12" class="v" textLength="24.4" lengthAdjust="spacingAndGlyphs">0,850 V</text>
<text x="953.0" y="150.12">-</text>
<text x="987.5" y="150.12" class="v">48,0 Ω</text>
<text x="1025.5" y="150.12" class="v">34,3 Ω</text>
<text x="1063.4" y="150.12" class="v">60,0 Ω</text>
<text x="1097.5" y="150.12">7</text>
<text x="1128.6" y="150.12">0</text>
<text x="1159.7" y="150.12">0</text>
<text x="1190.5" y="150.12">6</text>
<text x="1221.5" y="150.12">5</text>
<text x="1255.8" y="150.12">30</text>
<text x="30.4" y="160.92" textLength="29.4" lengthAdjust="spacingAndGlyphs">T3mp3sT</text>
<text x="77.8" y="160.92" textLength="20.2" lengthAdjust="spacingAndGlyphs">7950X</text>
<text x="111.4" y="160.92" textLength="23.2" lengthAdjust="spacingAndGlyphs">54,3 ns</text>
<text x="148.2" y="160.92">6300 MT/s</text>
<text x="187.1" y="160.92">2100 MHz</text>
<text x="242.5" y="160.92" class="l" textLength="50.0" lengthAdjust="spacingAndGlyphs">32-39-39-36-74</text>
<text x="308.5" y="160.92" text-anchor="end" textLength="24.9" lengthAdjust="spacingAndGlyphs">2x16GB</text>
<text x="327.2" y="160.92" textLength="19.8" lengthAdjust="spacingAndGlyphs">H16M</text>
<text x="346.0" y="160.92" text-anchor="start" textLength="63.0" lengthAdjust="spacingAndGlyphs">F5-6400J3239G16G</text>
<text x="471.7" y="160.92" text-anchor="end" textLength="39.1" lengthAdjust="spacingAndGlyphs">92283 MB/s</text>
<text x="519.8" y="160.92" text-anchor="end" textLength="39.1" lengthAdjust="spacingAndGlyphs">97514 MB/s</text>
<text x="563.2" y="160.92" text-anchor="end" textLength="39.1" lengthAdjust="spacingAndGlyphs">83699 MB/s</text>
<text x="587.8" y="160.92" textLength="37.0" lengthAdjust="spacingAndGlyphs">286,0 MB/s</text>
<text x="627.5" y="160.92" class="v" textLength="24.4" lengthAdjust="spacingAndGlyphs">1,300 V</text>
<text x="661.0" y="160.92" class="v" textLength="24.4" lengthAdjust="spacingAndGlyphs">1,000 V</text>
<text x="30.4" y="171.72" textLength="19.6" lengthAdjust="spacingAndGlyphs">Reous</text>
<text x="77.8" y="171.72" textLength="20.2" lengthAdjust="spacingAndGlyphs">7700X</text>
<text x="111.4" y="171.72" textLength="23.2" lengthAdjust="spacingAndGlyphs">54,6 ns</text>
<text x="148.2" y="171.72">6400 MT/s</text>
<text x="187.1" y="171.72">2133 MHz</text>
<text x="242.5" y="171.72" class="l" textLength="50.0" lengthAdjust="spacingAndGlyphs">30-39-39-56-82</text>
<text x="308.5" y="171.72" text-anchor="end" textLength="24.9" lengthAdjust="spacingAndGlyphs">2x16GB</text>
<text x="327.2" y="171.72" textLength="16.0" lengthAdjust="spacingAndGlyphs">S16B</text>
<text x="346.0" y="171.72" text-anchor="start" textLength="62.2" lengthAdjust="spacingAndGlyphs">F5-5600J3636C16G</text>
<text x="471.7" y="171.72" text-anchor="end" textLength="39.1" lengthAdjust="spacingAndGlyphs">67236 MB/s</text>
<text x="519.8" y="171.72" text-anchor="end" textLength="39.1" lengthAdjust="spacingAndGlyphs">98090 MB/s</text>
<text x="563.2" y="171.72" text-anchor="end" textLength="39.1" lengthAdjust="spacingAndGlyphs">67609 MB/s</text>
<text x="587.8" y="171.72" textLength="37.0" lengthAdjust="spacingAndGlyphs">255,8 MB/s</text>
<text x="627.5" y="171.72" class="v" textLength="24.4" lengthAdjust="spacingAndGlyphs">1,310 V</text>
<text x="661.0" y="171.72" class="v" textLength="24.4" lengthAdjust="spacingAndGlyphs">1,125 V</text>
<text x="694.5" y="171.72" class="v" textLength="24.4" lengthAdjust="spacingAndGlyphs">1,430 V</text>
<text x="728.5" y="171.72" class="v" textLength="24.4" lengthAdjust="spacingAndGlyphs">1,470 V</text>
<text x="762.4" y="171.72" class="v" textLength="24.4" lengthAdjust="spacingAndGlyphs">1,470 V</text>
<text x="796.0" y="171.72" class="v" textLength="24.4" lengthAdjust="spacingAndGlyphs">1,800 V</text>
<text x="828.5" y="171.72" class="v" textLength="24.4" lengthAdjust="spacingAndGlyphs">1,100 V</text>
<text x="859.9" y="171.72" class="v" textLength="24.4" lengthAdjust="spacingAndGlyphs">0,850 V</text>
<text x="891.0" y="171.72">-</text>
<text x="922.0" y="171.72" class="v" textLength="24.4" lengthAdjust="spacingAndGlyphs">0,850 V</text>
<text x="953.0" y="171.72">-</text>
<text x="987.5" y="171.72" class="v">48,0 Ω</text>
<text x="1025.5" y="171.72" class="v">40,0 Ω</text>
<text x="1063.4" y="171.72" class="v">32,0 Ω</text>
<text x="1097.5" y="171.72">7</text>
<text x="1128.6" y="171.72">0</text>
<text x="1159.7" y="171.72">0</text>
<text x="1190.5" y="171.72">5</text>
<text x="1221.5" y="171.72">6</text>
<text x="1255.8" y="171.72">30</text>
<text x="30.4" y="182.52" textLength="19.6" lengthAdjust="spacingAndGlyphs">Reous</text>
<text x="77.8" y="182.52" textLength="20.2" lengthAdjust="spacingAndGlyphs">7700X</text>
<text x="111.4" y="182.52" textLength="23.2" lengthAdjust="spacingAndGlyphs">55,0 ns</text>
<text x="148.2" y="182.52">6300 MT/s</text>
<text x="187.1" y="182.52">2100 MHz</text>
<text x="242.5" y="182.52" class="l" textLength="50.0" lengthAdjust="spacingAndGlyphs">30-38-38-56-82</text>
<text x="308.5" y="182.52" text-anchor="end" textLength="24.9" lengthAdjust="spacingAndGlyphs">2x16GB</text>
<text x="327.2" y="182.52" textLength="16.0" lengthAdjust="spacingAndGlyphs">S16B</text>
<text x="346.0" y="182.52" text-anchor="start" textLength="62.2" lengthAdjust="spacingAndGlyphs">F5-5600J3636C16G</text>
<text x="471.7" y="182.52" text-anchor="end" textLength="39.1" lengthAdjust="spacingAndGlyphs">66169 MB/s</text>
<text x="519.8" y="182.52" text-anchor="end" textLength="39.1" lengthAdjust="spacingAndGlyphs">96864 MB/s</text>
<text x="563.2" y="182.52" text-anchor="end" textLength="39.1" lengthAdjust="spacingAndGlyphs">66182 MB/s</text>
<text x="587.8" y="182.52" textLength="37.0" lengthAdjust="spacingAndGlyphs">253,9 MB/s</text>
<text x="627.5" y="182.52" class="v" textLength="24.4" lengthAdjust="spacingAndGlyphs">1,260 V</text>
<text x="661.0" y="182.52" class="v" textLength="24.4" lengthAdjust="spacingAndGlyphs">1,078 V</text>
<text x="694.5" y="182.52" class="v" textLength="24.4" lengthAdjust="spacingAndGlyphs">1,430 V</text>
<text x="728.5" y="182.52" class="v" textLength="24.4" lengthAdjust="spacingAndGlyphs">1,450 V</text>
<text x="762.4" y="182.52" class="v" textLength="24.4" lengthAdjust="spacingAndGlyphs">1,450 V</text>
<text x="796.0" y="182.52" class="v" textLength="24.4" lengthAdjust="spacingAndGlyphs">1,800 V</text>
<text x="828.5" y="182.52" class="v" textLength="24.4" lengthAdjust="spacingAndGlyphs">1,100 V</text>
<text x="859.9" y="182.52" class="v" textLength="24.4" lengthAdjust="spacingAndGlyphs">0,850 V</text>
<text x="891.0" y="182.52">-</text>
<text x="922.0" y="182.52" class="v" textLength="24.4" lengthAdjust="spacingAndGlyphs">0,850 V</text>
<text x="953.0" y="182.52">-</text>
<text x="987.5" y="182.52" class="v">48,0 Ω</text>
<text x="1025.5" y="182.52" class="v">40,0 Ω</text>
<text x="1063.4" y="182.52" class="v">32,0 Ω</text>
<text x="1097.5" y="182.52">7</text>
<text x="1128.6" y="182.52">0</text>
<text x="1159.7" y="182.52">0</text>
<text x="1190.5" y="182.52">5</text>
<text x="1221.5" y="182.52">6</text>
<text x="1255.8" y="182.52">30</text>
<text x="30.4" y="193.32" textLength="19.6" lengthAdjust="spacingAndGlyphs">Reous</text>
<text x="77.8" y="193.32" textLength="20.2" lengthAdjust="spacingAndGlyphs">7600X</text>
<text x="111.4" y="193.32" textLength="23.2" lengthAdjust="spacingAndGlyphs">55,3 ns</text>
<text x="148.2" y="193.32">6200 MT/s</text>
<text x="187.1" y="193.32">2200 MHz</text>
<text x="242.5" y="193.32" textLength="50.0" lengthAdjust="spacingAndGlyphs">30-37-37-48-70</text>
<text x="308.5" y="193.32" text-anchor="end" textLength="24.9" lengthAdjust="spacingAndGlyphs">2x16GB</text>
<text x="327.2" y="193.32" textLength="16.0" lengthAdjust="spacingAndGlyphs">S16B</text>
<text x="346.0" y="193.32" text-anchor="start" textLength="62.2" lengthAdjust="spacingAndGlyphs">F5-5600J3636C16G</text>
<text x="471.7" y="193.32" text-anchor="end" textLength="39.1" lengthAdjust="spacingAndGlyphs">69269 MB/s</text>
<text x="519.8" y="193.32" text-anchor="end" textLength="39.1" lengthAdjust="spacingAndGlyphs">95296 MB/s</text>
<text x="563.2" y="193.32" text-anchor="end" textLength="39.1" lengthAdjust="spacingAndGlyphs">69305 MB/s</text>
<text x="587.8" y="193.32" textLength="37.0" lengthAdjust="spacingAndGlyphs">261,8 MB/s</text>
<text x="627.5" y="193.32" class="v" textLength="24.4" lengthAdjust="spacingAndGlyphs">1,220 V</text>
<text x="661.0" y="193.32" class="v" textLength="24.4" lengthAdjust="spacingAndGlyphs">1,078 V</text>
<text x="694.5" y="193.32" class="v" textLength="24.4" lengthAdjust="spacingAndGlyphs">1,430 V</text>
<text x="728.5" y="193.32" class="v" textLength="24.4" lengthAdjust="spacingAndGlyphs">1,435 V</text>
<text x="762.4" y="193.32" class="v" textLength="24.4" lengthAdjust="spacingAndGlyphs">1,435 V</text>
<text x="796.0" y="193.32" class="v" textLength="24.4" lengthAdjust="spacingAndGlyphs">1,800 V</text>
<text x="828.5" y="193.32" class="v" textLength="24.4" lengthAdjust="spacingAndGlyphs">1,100 V</text>
<text x="859.9" y="193.32" class="v" textLength="24.4" lengthAdjust="spacingAndGlyphs">0,850 V</text>
<text x="891.0" y="193.32">-</text>
<text x="922.0" y="193.32" class="v" textLength="24.4" lengthAdjust="spacingAndGlyphs">0,850 V</text>
<text x="953.0" y="193.32">-</text>
<text x="987.5" y="193.32" class="v">48,0 Ω</text>
<text x="1025.5" y="193.32" class="v">40,0 Ω</text>
<text x="1063.4" y="193.32" class="v">30,0 Ω</text>
<text x="1097.5" y="193.32">7</text>
<text x="1128.6" y="193.32">0</text>
<text x="1159.7" y="193.32">0</text>
<text x="1190.5" y="193.32">5</text>
<text x="1221.5" y="193.32">6</text>
<text x="1255.8" y="193.32">30</text>
<text x="30.4" y="204.12" textLength="19.6" lengthAdjust="spacingAndGlyphs">Reous</text>
<text x="77.8" y="204.12" textLength="20.2" lengthAdjust="spacingAndGlyphs">7700X</text>
<text x="111.4" y="204.12" textLength="23.2" lengthAdjust="spacingAndGlyphs">55,5 ns</text>
<text x="148.2" y="204.12">6000 MT/s</text>
<text x="187.1" y="204.12">2200 MHz</text>
<text x="242.5" y="204.12" textLength="50.0" lengthAdjust="spacingAndGlyphs">30-36-36-48-70</text>
<text x="308.5" y="204.12" text-anchor="end" textLength="24.9" lengthAdjust="spacingAndGlyphs">2x16GB</text>
<text x="327.2" y="204.12" textLength="16.0" lengthAdjust="spacingAndGlyphs">S16B</text>
<text x="346.0" y="204.12" text-anchor="start" textLength="62.2" lengthAdjust="spacingAndGlyphs">F5-5600J3636C16G</text>
<text x="471.7" y="204.12" text-anchor="end" textLength="39.1" lengthAdjust="spacingAndGlyphs">69334 MB/s</text>
<text x="519.8" y="204.12" text-anchor="end" textLength="39.1" lengthAdjust="spacingAndGlyphs">92392 MB/s</text>
<text x="563.2" y="204.12" text-anchor="end" textLength="39.1" lengthAdjust="spacingAndGlyphs">69500 MB/s</text>
<text x="587.8" y="204.12" textLength="37.0" lengthAdjust="spacingAndGlyphs">260,0 MB/s</text>
<text x="627.5" y="204.12" class="v" textLength="24.4" lengthAdjust="spacingAndGlyphs">1,100 V</text>
<text x="661.0" y="204.12" class="v" textLength="24.4" lengthAdjust="spacingAndGlyphs">0,974 V</text>
<text x="694.5" y="204.12" class="v" textLength="24.4" lengthAdjust="spacingAndGlyphs">1,370 V</text>
<text x="728.5" y="204.12" class="v" textLength="24.4" lengthAdjust="spacingAndGlyphs">1,375 V</text>
<text x="762.4" y="204.12" class="v" textLength="24.4" lengthAdjust="spacingAndGlyphs">1,375 V</text>
<text x="796.0" y="204.12" class="v" textLength="24.4" lengthAdjust="spacingAndGlyphs">1,800 V</text>
<text x="828.5" y="204.12" class="v" textLength="24.4" lengthAdjust="spacingAndGlyphs">1,100 V</text>
<text x="859.9" y="204.12" class="v" textLength="24.4" lengthAdjust="spacingAndGlyphs">0,850 V</text>
<text x="891.0" y="204.12">-</text>
<text x="922.0" y="204.12" class="v" textLength="24.4" lengthAdjust="spacingAndGlyphs">0,850 V</text>
<text x="953.0" y="204.12">-</text>
<text x="987.5" y="204.12" class="v">48,0 Ω</text>
<text x="1025.5" y="204.12" class="v">40,0 Ω</text>
<text x="1063.4" y="204.12" class="v">30,0 Ω</text>
<text x="1097.5" y="204.12">7</text>
<text x="1128.6" y="204.12">0</text>
<text x="1159.7" y="204.12">0</text>
<text x="1190.5" y="204.12">5</text>
<text x="1221.5" y="204.12">6</text>
<text x="1255.8" y="204.12">30</text>
<text x="30.4" y="214.92">Veii</text>
<text x="77.8" y="214.92" textLength="20.2" lengthAdjust="spacingAndGlyphs">7900X</text>
<text x="111.4" y="214.92" textLength="23.2" lengthAdjust="spacingAndGlyphs">55,7 ns</text>
<text x="148.2" y="214.92">6000 MT/s</text>
<text x="187.1" y="214.92">2000 MHz</text>
<text x="242.5" y="214.92" class="l" textLength="50.0" lengthAdjust="spacingAndGlyphs">30-36-36-60-96</text>
<text x="308.5" y="214.92" text-anchor="end" textLength="24.9" lengthAdjust="spacingAndGlyphs">2x16GB</text>
<text x="327.2" y="214.92" textLength="19.8" lengthAdjust="spacingAndGlyphs">H16M</text>
<text x="346.0" y="214.92" text-anchor="start" textLength="63.1" lengthAdjust="spacingAndGlyphs">PVVR532G600C36K</text>
<text x="471.7" y="214.92" text-anchor="end" textLength="39.1" lengthAdjust="spacingAndGlyphs">88180 MB/s</text>
<text x="519.8" y="214.92" text-anchor="end" textLength="39.1" lengthAdjust="spacingAndGlyphs">93454 MB/s</text>
<text x="563.2" y="214.92" text-anchor="end" textLength="39.1" lengthAdjust="spacingAndGlyphs">80916 MB/s</text>
<text x="627.5" y="214.92" class="v" textLength="24.4" lengthAdjust="spacingAndGlyphs">1,217 V</text>
<text x="661.0" y="214.92" class="v" textLength="24.4" lengthAdjust="spacingAndGlyphs">1,050 V</text>
<text x="694.5" y="214.92" class="v" textLength="24.4" lengthAdjust="spacingAndGlyphs">1,400 V</text>
<text x="728.5" y="214.92" class="v" textLength="24.4" lengthAdjust="spacingAndGlyphs">1,300 V</text>
<text x="762.4" y="214.92" class="v" textLength="24.4" lengthAdjust="spacingAndGlyphs">1,300 V</text>
<text x="796.0" y="214.92" class="v" textLength="24.4" lengthAdjust="spacingAndGlyphs">2,000 V</text>
<text x="828.5" y="214.92" class="v" textLength="24.4" lengthAdjust="spacingAndGlyphs">1,172 V</text>
<text x="859.9" y="214.92" class="v" textLength="24.4" lengthAdjust="spacingAndGlyphs">0,920 V</text>
<text x="891.0" y="214.92" class="v" textLength="24.4" lengthAdjust="spacingAndGlyphs">0,920 V</text>
<text x="922.0" y="214.92" class="v" textLength="24.4" lengthAdjust="spacingAndGlyphs">0,960 V</text>
<text x="953.0" y="214.92" class="v" textLength="24.4" lengthAdjust="spacingAndGlyphs">0,960 V</text>
<text x="987.5" y="214.92" class="v">34,0 Ω</text>
<text x="1025.5" y="214.92" class="v">25,3 Ω</text>
<text x="1063.4" y="214.92" class="v">36,9 Ω</text>
<text x="1097.5" y="214.92">5</text>
<text x="1128.6" y="214.92">3</text>
<text x="1159.7" y="214.92">3</text>
<text x="1190.5" y="214.92">6</text>
<text x="1221.5" y="214.92">5</text>
<text x="1255.8" y="214.92">30</text>
<text x="30.4" y="225.72" textLength="21.9" lengthAdjust="spacingAndGlyphs">Owner</text>
<text x="77.8" y="225.72" textLength="20.2" lengthAdjust="spacingAndGlyphs">7900X</text>
<text x="111.4" y="225.72" textLength="23.2" lengthAdjust="spacingAndGlyphs">55,9 ns</text>
<text x="148.2" y="225.72">6500 MT/s</text>
<text x="187.1" y="225.72">2167 MHz</text>
<text x="242.5" y="225.72" class="l" textLength="50.0" lengthAdjust="spacingAndGlyphs">30-40-40-30-52</text>
<text x="308.5" y="225.72" text-anchor="end" textLength="24.9" lengthAdjust="spacingAndGlyphs">2x16GB</text>
<text x="327.2" y="225.72" textLength="17.6" lengthAdjust="spacingAndGlyphs">H16A</text>
<text x="346.0" y="225.72" text-anchor="start">UD5-7200</text>
<text x="471.7" y="225.72" text-anchor="end" textLength="39.1" lengthAdjust="spacingAndGlyphs">84209 MB/s</text>
<text x="519.8" y="225.72" text-anchor="end" textLength="39.1" lengthAdjust="spacingAndGlyphs">90309 MB/s</text>
<text x="563.2" y="225.72" text-anchor="end" textLength="39.1" lengthAdjust="spacingAndGlyphs">79053 MB/s</text>
<text x="627.5" y="225.72" class="v" textLength="24.4" lengthAdjust="spacingAndGlyphs">1,400 V</text>
<text x="661.0" y="225.72" class="v" textLength="24.4" lengthAdjust="spacingAndGlyphs">1,150 V</text>
<text x="694.5" y="225.72" class="v" textLength="24.4" lengthAdjust="spacingAndGlyphs">1,400 V</text>
<text x="728.5" y="225.72" class="v" textLength="24.4" lengthAdjust="spacingAndGlyphs">1,400 V</text>
<text x="762.4" y="225.72" class="v" textLength="24.4" lengthAdjust="spacingAndGlyphs">1,400 V</text>
<text x="828.5" y="225.72" class="v" textLength="24.4" lengthAdjust="spacingAndGlyphs">1,100 V</text>
<text x="859.9" y="225.72" class="v" textLength="24.4" lengthAdjust="spacingAndGlyphs">0,850 V</text>
<text x="891.0" y="225.72" class="v" textLength="24.4" lengthAdjust="spacingAndGlyphs">0,850 V</text>
<text x="922.0" y="225.72" class="v" textLength="24.4" lengthAdjust="spacingAndGlyphs">0,850 V</text>
<text x="953.0" y="225.72" class="v" textLength="24.4" lengthAdjust="spacingAndGlyphs">0,850 V</text>
<text x="987.5" y="225.72" class="v">48,0 Ω</text>
<text x="1025.5" y="225.72" class="v">34,3 Ω</text>
<text x="1063.4" y="225.72" class="v">43,6 Ω</text>
<text x="1097.5" y="225.72">6</text>
<text x="1128.6" y="225.72">3</text>
<text x="1159.7" y="225.72">3</text>
<text x="1190.5" y="225.72">6</text>
<text x="1221.5" y="225.72">6</text>
<text x="1255.8" y="225.72">30</text>
<text x="30.4" y="236.52" textLength="19.6" lengthAdjust="spacingAndGlyphs">Reous</text>
<text x="77.8" y="236.52" textLength="20.2" lengthAdjust="spacingAndGlyphs">7600X</text>
<text x="111.4" y="236.52" textLength="23.2" lengthAdjust="spacingAndGlyphs">55,9 ns</text>
<text x="148.2" y="236.52">6000 MT/s</text>
<text x="187.1" y="236.52">2200 MHz</text>
<text x="242.5" y="236.52" class="l" textLength="50.0" lengthAdjust="spacingAndGlyphs">30-36-36-48-70</text>
<text x="308.5" y="236.52" text-anchor="end" textLength="24.9" lengthAdjust="spacingAndGlyphs">2x16GB</text>
<text x="327.2" y="236.52" textLength="16.0" lengthAdjust="spacingAndGlyphs">S16B</text>
<text x="346.0" y="236.52" text-anchor="start" textLength="62.2" lengthAdjust="spacingAndGlyphs">F5-5600J3636C16G</text>
<text x="471.7" y="236.52" text-anchor="end" textLength="39.1" lengthAdjust="spacingAndGlyphs">69324 MB/s</text>
<text x="519.8" y="236.52" text-anchor="end" textLength="39.1" lengthAdjust="spacingAndGlyphs">92317 MB/s</text>
<text x="563.2" y="236.52" text-anchor="end" textLength="39.1" lengthAdjust="spacingAndGlyphs">69573 MB/s</text>
<text x="587.8" y="236.52" textLength="37.0" lengthAdjust="spacingAndGlyphs">259,6 MB/s</text>
<text x="627.5" y="236.52" class="v">1,110 V</text>
<text x="661.0" y="236.52" class="v" textLength="24.4" lengthAdjust="spacingAndGlyphs">1,024 V</text>
<text x="694.5" y="236.52" class="v" textLength="24.4" lengthAdjust="spacingAndGlyphs">1,370 V</text>
<text x="728.5" y="236.52" class="v" textLength="24.4" lengthAdjust="spacingAndGlyphs">1,375 V</text>
<text x="762.4" y="236.52" class="v" textLength="24.4" lengthAdjust="spacingAndGlyphs">1,375 V</text>
<text x="796.0" y="236.52" class="v" textLength="24.4" lengthAdjust="spacingAndGlyphs">1,800 V</text>
<text x="828.5" y="236.52" class="v" textLength="24.4" lengthAdjust="spacingAndGlyphs">1,100 V</text>
<text x="859.9" y="236.52" class="v" textLength="24.4" lengthAdjust="spacingAndGlyphs">0,850 V</text>
<text x="891.0" y="236.52">-</text>
<text x="922.0" y="236.52" class="v" textLength="24.4" lengthAdjust="spacingAndGlyphs">0,850 V</text>
<text x="953.0" y="236.52">-</text>
<text x="987.5" y="236.52" class="v">48,0 Ω</text>
<text x="1025.5" y="236.52" class="v">40,0 Ω</text>
<text x="1063.4" y="236.52" class="v">30,0 Ω</text>
<text x="1097.5" y="236.52">7</text>
<text x="1128.6" y="236.52">0</text>
<text x="1159.7" y="236.52">0</text>
<text x="1190.5" y="236.52">5</text>
<text x="1221.5" y="236.52">6</text>
<text x="1255.8" y="236.52">30</text>
<text x="30.4" y="247.32" textLength="51.9" lengthAdjust="spacingAndGlyphs">ZeroCoolRiddler</text>
<text x="77.8" y="247.32" textLength="20.2" lengthAdjust="spacingAndGlyphs">7600X</text>
<text x="111.4" y="247.32" textLength="23.2" lengthAdjust="spacingAndGlyphs">56,2 ns</text>
<text x="148.2" y="247.32">6300 MT/s</text>
<text x="187.1" y="247.32">2100 MHz</text>
<text x="242.5" y="247.32" class="l" textLength="50.0" lengthAdjust="spacingAndGlyphs">30-37-37-37-56</text>
<text x="308.5" y="247.32" text-anchor="end" textLength="24.9" lengthAdjust="spacingAndGlyphs">2x16GB</text>
<text x="327.2" y="247.32" textLength="19.8" lengthAdjust="spacingAndGlyphs">H16M</text>
<text x="346.0" y="247.32" text-anchor="start" textLength="42.7" lengthAdjust="spacingAndGlyphs">KF560C40-32</text>
<text x="471.7" y="247.32" text-anchor="end" textLength="39.1" lengthAdjust="spacingAndGlyphs">66146 MB/s</text>
<text x="519.8" y="247.32" text-anchor="end" textLength="39.1" lengthAdjust="spacingAndGlyphs">93741 MB/s</text>
<text x="563.2" y="247.32" text-anchor="end" textLength="39.1" lengthAdjust="spacingAndGlyphs">66862 MB/s</text>
<text x="587.8" y="247.32" textLength="37.0" lengthAdjust="spacingAndGlyphs">246,0 MB/s</text>
<text x="661.0" y="247.32" class="v" textLength="24.4" lengthAdjust="spacingAndGlyphs">1,150 V</text>
<text x="694.5" y="247.32">-</text>
<text x="728.5" y="247.32" class="v" textLength="24.4" lengthAdjust="spacingAndGlyphs">1,420 V</text>
<text x="762.4" y="247.32" class="v" textLength="24.4" lengthAdjust="spacingAndGlyphs">1,420 V</text>
<text x="828.5" y="247.32" class="v" textLength="24.4" lengthAdjust="spacingAndGlyphs">1,100 V</text>
<text x="859.9" y="247.32" class="v" textLength="24.4" lengthAdjust="spacingAndGlyphs">0,883 V</text>
<text x="891.0" y="247.32">-</text>
<text x="922.0" y="247.32" class="v" textLength="24.4" lengthAdjust="spacingAndGlyphs">0,883 V</text>
<text x="953.0" y="247.32">-</text>
<text x="987.5" y="247.32" class="v">48,0 Ω</text>
<text x="1025.5" y="247.32" class="v">34,3 Ω</text>
<text x="1063.4" y="247.32" class="v">40,0 Ω</text>
<text x="1097.5" y="247.32">6</text>
<text x="1128.6" y="247.32">3</text>
<text x="1159.7" y="247.32">3</text>
<text x="1190.5" y="247.32">6</text>
<text x="1221.5" y="247.32">5</text>
<text x="1255.8" y="247.32">30</text>
<text x="30.4" y="258.12" textLength="21.9" lengthAdjust="spacingAndGlyphs">Owner</text>
<text x="77.8" y="258.12" textLength="20.2" lengthAdjust="spacingAndGlyphs">7900X</text>
<text x="111.4" y="258.12" textLength="23.2" lengthAdjust="spacingAndGlyphs">56,7 ns</text>
<text x="148.2" y="258.12">5600 MT/s</text>
<text x="187.1" y="258.12">2167 MHz</text>
<text x="242.5" y="258.12" class="l" textLength="50.0" lengthAdjust="spacingAndGlyphs">26-34-34-30-50</text>
<text x="308.5" y="258.12" text-anchor="end" textLength="24.9" lengthAdjust="spacingAndGlyphs">2x16GB</text>
<text x="327.2" y="258.12" textLength="19.8" lengthAdjust="spacingAndGlyphs">H16M</text>
<text x="346.0" y="258.12" text-anchor="start" textLength="42.7" lengthAdjust="spacingAndGlyphs">KF560C40-32</text>
<text x="471.7" y="258.12" text-anchor="end" textLength="39.1" lengthAdjust="spacingAndGlyphs">78778 MB/s</text>
<text x="519.8" y="258.12" text-anchor="end" textLength="39.1" lengthAdjust="spacingAndGlyphs">81974 MB/s</text>
<text x="563.2" y="258.12" text-anchor="end" textLength="39.1" lengthAdjust="spacingAndGlyphs">73219 MB/s</text>
<text x="587.8" y="258.12" textLength="37.0" lengthAdjust="spacingAndGlyphs">250,0 MB/s</text>
<text x="627.5" y="258.12" class="v" textLength="24.4" lengthAdjust="spacingAndGlyphs">1,270 V</text>
<text x="661.0" y="258.12" class="v" textLength="24.4" lengthAdjust="spacingAndGlyphs">1,000 V</text>
<text x="694.5" y="258.12" class="v" textLength="24.4" lengthAdjust="spacingAndGlyphs">1,350 V</text>
<text x="728.5" y="258.12" class="v" textLength="24.4" lengthAdjust="spacingAndGlyphs">1,400 V</text>
<text x="762.4" y="258.12" class="v" textLength="24.4" lengthAdjust="spacingAndGlyphs">1,380 V</text>
<text x="828.5" y="258.12" class="v" textLength="24.4" lengthAdjust="spacingAndGlyphs">1,100 V</text>
<text x="859.9" y="258.12" class="v" textLength="24.4" lengthAdjust="spacingAndGlyphs">0,850 V</text>
<text x="891.0" y="258.12" class="v" textLength="24.4" lengthAdjust="spacingAndGlyphs">0,850 V</text>
<text x="922.0" y="258.12" class="v" textLength="24.4" lengthAdjust="spacingAndGlyphs">0,850 V</text>
<text x="953.0" y="258.12" class="v" textLength="24.4" lengthAdjust="spacingAndGlyphs">0,850 V</text>
<text x="987.5" y="258.12" class="v">34,0 Ω</text>
<text x="1025.5" y="258.12" class="v">34,3 Ω</text>
<text x="1063.4" y="258.12" class="v">36,9 Ω</text>
<text x="1097.5" y="258.12">6</text>
<text x="1128.6" y="258.12">0</text>
<text x="1159.7" y="258.12">0</text>
<text x="1190.5" y="258.12">6</text>
<text x="1221.5" y="258.12">5</text>
<text x="1255.8" y="258.12">30</text>
<text x="30.4" y="268.92" textLength="51.9" lengthAdjust="spacingAndGlyphs">ZeroCoolRiddler</text>
<text x="77.8" y="268.92" textLength="20.2" lengthAdjust="spacingAndGlyphs">7600X</text>
<text x="111.4" y="268.92" textLength="23.2" lengthAdjust="spacingAndGlyphs">57,0 ns</text>
<text x="148.2" y="268.92">6000 MT/s</text>
<text x="187.1" y="268.92">2100 MHz</text>
<text x="242.5" y="268.92" class="l" textLength="50.0" lengthAdjust="spacingAndGlyphs">28-36-36-30-56</text>
<text x="308.5" y="268.92" text-anchor="end" textLength="24.9" lengthAdjust="spacingAndGlyphs">2x16GB</text>
<text x="327.2" y="268.92" textLength="19.8" lengthAdjust="spacingAndGlyphs">H16M</text>
<text x="346.0" y="268.92" text-anchor="start" textLength="42.7" lengthAdjust="spacingAndGlyphs">KF560C40-32</text>
<text x="471.7" y="268.92" text-anchor="end" textLength="39.1" lengthAdjust="spacingAndGlyphs">65818 MB/s</text>
<text x="519.8" y="268.92" text-anchor="end" textLength="39.1" lengthAdjust="spacingAndGlyphs">88724 MB/s</text>
<text x="563.2" y="268.92" text-anchor="end" textLength="39.1" lengthAdjust="spacingAndGlyphs">66630 MB/s</text>
<text x="661.0" y="268.92" class="v" textLength="24.4" lengthAdjust="spacingAndGlyphs">1,150 V</text>
<text x="694.5" y="268.92">-</text>
<text x="728.5" y="268.92" class="v" textLength="24.4" lengthAdjust="spacingAndGlyphs">1,410 V</text>
<text x="762.4" y="268.92" class="v" textLength="24.4" lengthAdjust="spacingAndGlyphs">1,410 V</text>
<text x="828.5" y="268.92" class="v" textLength="24.4" lengthAdjust="spacingAndGlyphs">1,100 V</text>
<text x="859.9" y="268.92" class="v" textLength="24.4" lengthAdjust="spacingAndGlyphs">1,150 V</text>
<text x="891.0" y="268.92">-</text>
<text x="922.0" y="268.92" class="v" textLength="24.4" lengthAdjust="spacingAndGlyphs">1,150 V</text>
<text x="953.0" y="268.92">-</text>
<text x="987.5" y="268.92" class="v">34,0 Ω</text>
<text x="1025.5" y="268.92" class="v">34,3 Ω</text>
<text x="1063.4" y="268.92" class="v">60,0 Ω</text>
<text x="1097.5" y="268.92">6</text>
<text x="1128.6" y="268.92">0</text>
<text x="1159.7" y="268.92">0</text>
<text x="1190.5" y="268.92">6</text>
<text x="1221.5" y="268.92">5</text>
<text x="1255.8" y="268.92">30</text>
<text x="30.4" y="279.72" textLength="19.6" lengthAdjust="spacingAndGlyphs">Reous</text>
<text x="77.8" y="279.72" textLength="20.2" lengthAdjust="spacingAndGlyphs">7600X</text>
<text x="111.4" y="279.72" textLength="23.2" lengthAdjust="spacingAndGlyphs">57,3 ns</text>
<text x="148.2" y="279.72">5600 MT/s</text>
<text x="187.1" y="279.72">2200 MHz</text>
<text x="242.5" y="279.72" textLength="50.0" lengthAdjust="spacingAndGlyphs">26-33-33-42-70</text>
<text x="308.5" y="279.72" text-anchor="end" textLength="24.9" lengthAdjust="spacingAndGlyphs">2x16GB</text>
<text x="327.2" y="279.72" textLength="19.8" lengthAdjust="spacingAndGlyphs">H16M</text>
<text x="346.0" y="279.72" text-anchor="start" textLength="42.7" lengthAdjust="spacingAndGlyphs">KF560C32-32</text>
<text x="471.7" y="279.72" text-anchor="end" textLength="39.1" lengthAdjust="spacingAndGlyphs">67489 MB/s</text>
<text x="519.8" y="279.72" text-anchor="end" textLength="39.1" lengthAdjust="spacingAndGlyphs">79799 MB/s</text>
<text x="563.2" y="279.72" text-anchor="end" textLength="39.1" lengthAdjust="spacingAndGlyphs">67195 MB/s</text>
<text x="587.8" y="279.72" textLength="37.0" lengthAdjust="spacingAndGlyphs">241,0 MB/s</text>
<text x="627.5" y="279.72" class="v" textLength="24.4" lengthAdjust="spacingAndGlyphs">1,100 V</text>
<text x="661.0" y="279.72" class="v" textLength="24.4" lengthAdjust="spacingAndGlyphs">1,000 V</text>
<text x="694.5" y="279.72" class="v" textLength="24.4" lengthAdjust="spacingAndGlyphs">1,250 V</text>
<text x="728.5" y="279.72" class="v" textLength="24.4" lengthAdjust="spacingAndGlyphs">1,375 V</text>
<text x="762.4" y="279.72" class="v" textLength="24.4" lengthAdjust="spacingAndGlyphs">1,375 V</text>
<text x="828.5" y="279.72" class="v" textLength="24.4" lengthAdjust="spacingAndGlyphs">1,100 V</text>
<text x="859.9" y="279.72" class="v" textLength="24.4" lengthAdjust="spacingAndGlyphs">0,850 V</text>
<text x="891.0" y="279.72">-</text>
<text x="922.0" y="279.72" class="v" textLength="24.4" lengthAdjust="spacingAndGlyphs">0,850 V</text>
<text x="953.0" y="279.72">-</text>
<text x="987.5" y="279.72" class="v">48,0 Ω</text>
<text x="1025.5" y="279.72" class="v">34,3 Ω</text>
<text x="1063.4" y="279.72" class="v">28,2 Ω</text>
<text x="1097.5" y="279.72">7</text>
<text x="1128.6" y="279.72">0</text>
<text x="1159.7" y="279.72">0</text>
<text x="1190.5" y="279.72">6</text>
<text x="1221.5" y="279.72">5</text>
<text x="1255.8" y="279.72">30</text>
<text x="30.4" y="290.52" textLength="21.9" lengthAdjust="spacingAndGlyphs">Owner</text>
<text x="77.8" y="290.52" textLength="20.2" lengthAdjust="spacingAndGlyphs">7900X</text>
<text x="111.4" y="290.52" textLength="23.2" lengthAdjust="spacingAndGlyphs">57,6 ns</text>
<text x="148.2" y="290.52">6000 MT/s</text>
<text x="187.1" y="290.52">2167 MHz</text>
<text x="242.5" y="290.52" class="l" textLength="50.0" lengthAdjust="spacingAndGlyphs">28-38-38-30-55</text>
<text x="308.5" y="290.52" text-anchor="end" textLength="24.9" lengthAdjust="spacingAndGlyphs">2x16GB</text>
<text x="327.2" y="290.52" textLength="19.8" lengthAdjust="spacingAndGlyphs">H16M</text>
<text x="346.0" y="290.52" text-anchor="start" textLength="42.7" lengthAdjust="spacingAndGlyphs">KF560C40-32</text>
<text x="471.7" y="290.52" text-anchor="end" textLength="39.1" lengthAdjust="spacingAndGlyphs">80312 MB/s</text>
<text x="519.8" y="290.52" text-anchor="end" textLength="39.1" lengthAdjust="spacingAndGlyphs">85604 MB/s</text>
<text x="563.2" y="290.52" text-anchor="end" textLength="39.1" lengthAdjust="spacingAndGlyphs">75372 MB/s</text>
<text x="587.8" y="290.52" textLength="37.0" lengthAdjust="spacingAndGlyphs">258,0 MB/s</text>
<text x="661.0" y="290.52" class="v" textLength="24.4" lengthAdjust="spacingAndGlyphs">1,000 V</text>
<text x="694.5" y="290.52" class="v" textLength="24.4" lengthAdjust="spacingAndGlyphs">1,350 V</text>
<text x="728.5" y="290.52" class="v" textLength="24.4" lengthAdjust="spacingAndGlyphs">1,400 V</text>
<text x="762.4" y="290.52" class="v" textLength="24.4" lengthAdjust="spacingAndGlyphs">1,380 V</text>
<text x="828.5" y="290.52" class="v" textLength="24.4" lengthAdjust="spacingAndGlyphs">1,270 V</text>
<text x="859.9" y="290.52" class="v" textLength="24.4" lengthAdjust="spacingAndGlyphs">0,850 V</text>
<text x="891.0" y="290.52" class="v" textLength="24.4" lengthAdjust="spacingAndGlyphs">0,850 V</text>
<text x="922.0" y="290.52" class="v" textLength="24.4" lengthAdjust="spacingAndGlyphs">0,850 V</text>
<text x="953.0" y="290.52" class="v" textLength="24.4" lengthAdjust="spacingAndGlyphs">0,850 V</text>
<text x="987.5" y="290.52" class="v">40,0 Ω</text>
<text x="1025.5" y="290.52" class="v">34,3 Ω</text>
<text x="1063.4" y="290.52" class="v">36,9 Ω</text>
<text x="1097.5" y="290.52">4</text>
<text x="1128.6" y="290.52">0</text>
<text x="1159.7" y="290.52">0</text>
<text x="1190.5" y="290.52">4</text>
<text x="1221.5" y="290.52">4</text>
<text x="1255.8" y="290.52">30</text>
<text x="30.4" y="301.32" textLength="19.6" lengthAdjust="spacingAndGlyphs">Reous</text>
<text x="77.8" y="301.32" textLength="20.2" lengthAdjust="spacingAndGlyphs">7600X</text>
<text x="111.4" y="301.32" textLength="23.2" lengthAdjust="spacingAndGlyphs">57,7 ns</text>
<text x="148.2" y="301.32">5800 MT/s</text>
<text x="187.1" y="301.32">2200 MHz</text>
<text x="242.5" y="301.32" class="l" textLength="50.0" lengthAdjust="spacingAndGlyphs">28-33-33-42-74</text>
<text x="308.5" y="301.32" text-anchor="end" textLength="24.9" lengthAdjust="spacingAndGlyphs">2x16GB</text>
<text x="327.2" y="301.32" textLength="19.8" lengthAdjust="spacingAndGlyphs">H16M</text>
<text x="346.0" y="301.32" text-anchor="start" textLength="42.7" lengthAdjust="spacingAndGlyphs">KF560C32-32</text>
<text x="471.7" y="301.32" text-anchor="end" textLength="39.1" lengthAdjust="spacingAndGlyphs">67645 MB/s</text>
<text x="519.8" y="301.32" text-anchor="end" textLength="39.1" lengthAdjust="spacingAndGlyphs">82968 MB/s</text>
<text x="563.2" y="301.32" text-anchor="end" textLength="39.1" lengthAdjust="spacingAndGlyphs">67813 MB/s</text>
<text x="587.8" y="301.32" textLength="37.0" lengthAdjust="spacingAndGlyphs">245,0 MB/s</text>
<text x="627.5" y="301.32" class="v" textLength="24.4" lengthAdjust="spacingAndGlyphs">1,125 V</text>
<text x="661.0" y="301.32" class="v" textLength="24.4" lengthAdjust="spacingAndGlyphs">1,000 V</text>
<text x="694.5" y="301.32" class="v" textLength="24.4" lengthAdjust="spacingAndGlyphs">1,320 V</text>
<text x="728.5" y="301.32" class="v" textLength="24.4" lengthAdjust="spacingAndGlyphs">1,325 V</text>
<text x="762.4" y="301.32" class="v" textLength="24.4" lengthAdjust="spacingAndGlyphs">1,325 V</text>
<text x="828.5" y="301.32" class="v" textLength="24.4" lengthAdjust="spacingAndGlyphs">1,100 V</text>
<text x="859.9" y="301.32" class="v" textLength="24.4" lengthAdjust="spacingAndGlyphs">0,850 V</text>
<text x="891.0" y="301.32">-</text>
<text x="922.0" y="301.32" class="v" textLength="24.4" lengthAdjust="spacingAndGlyphs">0,850 V</text>
<text x="953.0" y="301.32">-</text>
<text x="987.5" y="301.32" class="v">48,0 Ω</text>
<text x="1025.5" y="301.32" class="v">34,3 Ω</text>
<text x="1063.4" y="301.32" class="v">28,2 Ω</text>
<text x="1097.5" y="301.32">7</text>
<text x="1128.6" y="301.32">0</text>
<text x="1159.7" y="301.32">0</text>
<text x="1190.5" y="301.32">6</text>
<text x="1221.5" y="301.32">5</text>
<text x="1255.8" y="301.32">30</text>
<text x="30.4" y="312.12" textLength="19.6" lengthAdjust="spacingAndGlyphs">Reous</text>
<text x="77.8" y="312.12" textLength="20.2" lengthAdjust="spacingAndGlyphs">7700X</text>
<text x="111.4" y="312.12" textLength="23.2" lengthAdjust="spacingAndGlyphs">58,3 ns</text>
<text x="148.2" y="312.12">6400 MT/s</text>
<text x="187.1" y="312.12">2200 MHz</text>
<text x="242.5" y="312.12" class="l" textLength="50.0" lengthAdjust="spacingAndGlyphs">36-45-41-56-82</text>
<text x="308.5" y="312.12" text-anchor="end" textLength="24.9" lengthAdjust="spacingAndGlyphs">2x16GB</text>
<text x="327.2" y="312.12" textLength="19.9" lengthAdjust="spacingAndGlyphs">M16G</text>
<text x="346.0" y="312.12" text-anchor="start" textLength="50.7" lengthAdjust="spacingAndGlyphs">CT16G56C46U5</text>
<text x="471.7" y="312.12" text-anchor="end" textLength="39.1" lengthAdjust="spacingAndGlyphs">68842 MB/s</text>
<text x="519.8" y="312.12" text-anchor="end" textLength="39.1" lengthAdjust="spacingAndGlyphs">97447 MB/s</text>
<text x="563.2" y="312.12" text-anchor="end" textLength="39.1" lengthAdjust="spacingAndGlyphs">69020 MB/s</text>
<text x="587.8" y="312.12" textLength="37.0" lengthAdjust="spacingAndGlyphs">255,8 MB/s</text>
<text x="627.5" y="312.12" class="v" textLength="24.4" lengthAdjust="spacingAndGlyphs">1,315 V</text>
<text x="661.0" y="312.12" class="v" textLength="24.4" lengthAdjust="spacingAndGlyphs">1,125 V</text>
<text x="694.5" y="312.12" class="v" textLength="24.4" lengthAdjust="spacingAndGlyphs">1,270 V</text>
<text x="728.5" y="312.12" class="v" textLength="24.4" lengthAdjust="spacingAndGlyphs">1,270 V</text>
<text x="762.4" y="312.12" class="v" textLength="24.4" lengthAdjust="spacingAndGlyphs">1,270 V</text>
<text x="796.0" y="312.12" class="v" textLength="24.4" lengthAdjust="spacingAndGlyphs">1,800 V</text>
<text x="828.5" y="312.12" class="v" textLength="24.4" lengthAdjust="spacingAndGlyphs">1,100 V</text>
<text x="859.9" y="312.12" class="v" textLength="24.4" lengthAdjust="spacingAndGlyphs">0,850 V</text>
<text x="891.0" y="312.12">-</text>
<text x="922.0" y="312.12" class="v" textLength="24.4" lengthAdjust="spacingAndGlyphs">0,850 V</text>
<text x="953.0" y="312.12">-</text>
<text x="987.5" y="312.12" class="v">48,0 Ω</text>
<text x="1025.5" y="312.12" class="v">40,0 Ω</text>
<text x="1063.4" y="312.12" class="v">32,0 Ω</text>
<text x="1097.5" y="312.12">7</text>
<text x="1128.6" y="312.12">0</text>
<text x="1159.7" y="312.12">0</text>
<text x="1190.5" y="312.12">5</text>
<text x="1221.5" y="312.12">6</text>
<text x="1255.8" y="312.12">30</text>
<text x="30.4" y="322.92" textLength="19.6" lengthAdjust="spacingAndGlyphs">Reous</text>
<text x="77.8" y="322.92" textLength="20.2" lengthAdjust="spacingAndGlyphs">7700X</text>
<text x="111.4" y="322.92" textLength="23.2" lengthAdjust="spacingAndGlyphs">58,6 ns</text>
<text x="148.2" y="322.92">6200 MT/s</text>
<text x="187.1" y="322.92">2200 MHz</text>
<text x="242.5" y="322.92" class="l" textLength="50.0" lengthAdjust="spacingAndGlyphs">36-43-39-56-82</text>
<text x="308.5" y="322.92" text-anchor="end" textLength="24.9" lengthAdjust="spacingAndGlyphs">2x16GB</text>
<text x="327.2" y="322.92" textLength="19.9" lengthAdjust="spacingAndGlyphs">M16G</text>
<text x="346.0" y="322.92" text-anchor="start" textLength="50.7" lengthAdjust="spacingAndGlyphs">CT16G56C46U5</text>
<text x="471.7" y="322.92" text-anchor="end" textLength="39.1" lengthAdjust="spacingAndGlyphs">69139 MB/s</text>
<text x="519.8" y="322.92" text-anchor="end" textLength="39.1" lengthAdjust="spacingAndGlyphs">94566 MB/s</text>
<text x="563.2" y="322.92" text-anchor="end" textLength="39.1" lengthAdjust="spacingAndGlyphs">69253 MB/s</text>
<text x="587.8" y="322.92" textLength="37.0" lengthAdjust="spacingAndGlyphs">256,5 MB/s</text>
<text x="627.5" y="322.92" class="v" textLength="24.4" lengthAdjust="spacingAndGlyphs">1,210 V</text>
<text x="661.0" y="322.92" class="v" textLength="24.4" lengthAdjust="spacingAndGlyphs">1,040 V</text>
<text x="694.5" y="322.92" class="v" textLength="24.4" lengthAdjust="spacingAndGlyphs">1,230 V</text>
<text x="728.5" y="322.92" class="v" textLength="24.4" lengthAdjust="spacingAndGlyphs">1,230 V</text>
<text x="762.4" y="322.92" class="v" textLength="24.4" lengthAdjust="spacingAndGlyphs">1,230 V</text>
<text x="796.0" y="322.92" class="v" textLength="24.4" lengthAdjust="spacingAndGlyphs">1,800 V</text>
<text x="828.5" y="322.92" class="v" textLength="24.4" lengthAdjust="spacingAndGlyphs">1,100 V</text>
<text x="859.9" y="322.92" class="v" textLength="24.4" lengthAdjust="spacingAndGlyphs">0,850 V</text>
<text x="891.0" y="322.92">-</text>
<text x="922.0" y="322.92" class="v" textLength="24.4" lengthAdjust="spacingAndGlyphs">0,850 V</text>
<text x="953.0" y="322.92">-</text>
<text x="987.5" y="322.92" class="v">48,0 Ω</text>
<text x="1025.5" y="322.92" class="v">40,0 Ω</text>
<text x="1063.4" y="322.92" class="v">32,0 Ω</text>
<text x="1097.5" y="322.92">7</text>
<text x="1128.6" y="322.92">0</text>
<text x="1159.7" y="322.92">0</text>
<text x="1190.5" y="322.92">5</text>
<text x="1221.5" y="322.92">6</text>
<text x="1255.8" y="322.92">30</text>
<text x="30.4" y="333.72" textLength="23.9" lengthAdjust="spacingAndGlyphs">funkflix</text>
<text x="77.8" y="333.72" textLength="20.2" lengthAdjust="spacingAndGlyphs">7950X</text>
<text x="111.4" y="333.72" textLength="23.2" lengthAdjust="spacingAndGlyphs">58,8 ns</text>
<text x="148.2" y="333.72">6000 MT/s</text>
<text x="187.1" y="333.72">2133 MHz</text>
<text x="242.5" y="333.72" class="l" textLength="50.0" lengthAdjust="spacingAndGlyphs">28-35-36-42-36</text>
<text x="308.5" y="333.72" text-anchor="end" textLength="24.9" lengthAdjust="spacingAndGlyphs">2x16GB</text>
<text x="327.2" y="333.72" textLength="19.8" lengthAdjust="spacingAndGlyphs">H16M</text>
<text x="346.0" y="333.72" text-anchor="start" textLength="61.6" lengthAdjust="spacingAndGlyphs">F5-6000J3038F16G</text>
<text x="471.7" y="333.72" text-anchor="end" textLength="39.1" lengthAdjust="spacingAndGlyphs">88647 MB/s</text>
<text x="519.8" y="333.72" text-anchor="end" textLength="39.1" lengthAdjust="spacingAndGlyphs">92267 MB/s</text>
<text x="563.2" y="333.72" text-anchor="end" textLength="39.1" lengthAdjust="spacingAndGlyphs">81490 MB/s</text>
<text x="627.5" y="333.72" class="v" textLength="24.4" lengthAdjust="spacingAndGlyphs">1,320 V</text>
<text x="661.0" y="333.72" class="v" textLength="24.4" lengthAdjust="spacingAndGlyphs">1,148 V</text>
<text x="694.5" y="333.72" class="v" textLength="24.4" lengthAdjust="spacingAndGlyphs">1,450 V</text>
<text x="728.5" y="333.72" class="v" textLength="24.4" lengthAdjust="spacingAndGlyphs">1,425 V</text>
<text x="762.4" y="333.72" class="v" textLength="24.4" lengthAdjust="spacingAndGlyphs">1,425 V</text>
<text x="796.0" y="333.72" class="v" textLength="24.4" lengthAdjust="spacingAndGlyphs">1,800 V</text>
<text x="828.5" y="333.72" class="v" textLength="24.4" lengthAdjust="spacingAndGlyphs">1,100 V</text>
<text x="859.9" y="333.72" class="v" textLength="24.4" lengthAdjust="spacingAndGlyphs">0,950 V</text>
<text x="891.0" y="333.72" class="v" textLength="24.4" lengthAdjust="spacingAndGlyphs">0,950 V</text>
<text x="922.0" y="333.72" class="v" textLength="24.4" lengthAdjust="spacingAndGlyphs">0,950 V</text>
<text x="953.0" y="333.72" class="v" textLength="24.4" lengthAdjust="spacingAndGlyphs">0,950 V</text>
<text x="987.5" y="333.72" class="v">34,0 Ω</text>
<text x="1025.5" y="333.72" class="v">34,3 Ω</text>
<text x="1063.4" y="333.72" class="v">36,9 Ω</text>
<text x="1097.5" y="333.72">7</text>
<text x="1128.6" y="333.72">0</text>
<text x="1159.7" y="333.72">0</text>
<text x="1190.5" y="333.72">5</text>
<text x="1221.5" y="333.72">5</text>
<text x="1255.8" y="333.72">30</text>
<text x="30.4" y="344.52" textLength="19.6" lengthAdjust="spacingAndGlyphs">Reous</text>
<text x="77.8" y="344.52" textLength="20.2" lengthAdjust="spacingAndGlyphs">7700X</text>
<text x="111.4" y="344.52" textLength="23.2" lengthAdjust="spacingAndGlyphs">59,0 ns</text>
<text x="148.2" y="344.52">6000 MT/s</text>
<text x="187.1" y="344.52">2200 MHz</text>
<text x="242.5" y="344.52" class="l" textLength="50.0" lengthAdjust="spacingAndGlyphs">34-43-38-54-80</text>
<text x="308.5" y="344.52" text-anchor="end" textLength="24.9" lengthAdjust="spacingAndGlyphs">2x16GB</text>
<text x="327.2" y="344.52" textLength="19.9" lengthAdjust="spacingAndGlyphs">M16G</text>
<text x="346.0" y="344.52" text-anchor="start" textLength="50.7" lengthAdjust="spacingAndGlyphs">CT16G56C46U5</text>
<text x="471.7" y="344.52" text-anchor="end" textLength="39.1" lengthAdjust="spacingAndGlyphs">69261 MB/s</text>
<text x="519.8" y="344.52" text-anchor="end" textLength="39.1" lengthAdjust="spacingAndGlyphs">91743 MB/s</text>
<text x="563.2" y="344.52" text-anchor="end" textLength="39.1" lengthAdjust="spacingAndGlyphs">69328 MB/s</text>
<text x="587.8" y="344.52" textLength="37.0" lengthAdjust="spacingAndGlyphs">255,2 MB/s</text>
<text x="627.5" y="344.52" class="v" textLength="24.4" lengthAdjust="spacingAndGlyphs">1,100 V</text>
<text x="661.0" y="344.52" class="v" textLength="24.4" lengthAdjust="spacingAndGlyphs">0,983 V</text>
<text x="694.5" y="344.52" class="v" textLength="24.4" lengthAdjust="spacingAndGlyphs">1,265 V</text>
<text x="728.5" y="344.52" class="v" textLength="24.4" lengthAdjust="spacingAndGlyphs">1,265 V</text>
<text x="762.4" y="344.52" class="v" textLength="24.4" lengthAdjust="spacingAndGlyphs">1,260 V</text>
<text x="796.0" y="344.52" class="v" textLength="24.4" lengthAdjust="spacingAndGlyphs">1,800 V</text>
<text x="828.5" y="344.52" class="v" textLength="24.4" lengthAdjust="spacingAndGlyphs">1,100 V</text>
<text x="859.9" y="344.52" class="v" textLength="24.4" lengthAdjust="spacingAndGlyphs">0,850 V</text>
<text x="891.0" y="344.52">-</text>
<text x="922.0" y="344.52" class="v" textLength="24.4" lengthAdjust="spacingAndGlyphs">0,850 V</text>
<text x="953.0" y="344.52">-</text>
<text x="987.5" y="344.52" class="v">48,0 Ω</text>
<text x="1025.5" y="344.52" class="v">40,0 Ω</text>
<text x="1063.4" y="344.52" class="v">30,0 Ω</text>
<text x="1097.5" y="344.52">7</text>
<text x="1128.6" y="344.52">0</text>
<text x="1159.7" y="344.52">0</text>
<text x="1190.5" y="344.52">5</text>
<text x="1221.5" y="344.52">6</text>
<text x="1255.8" y="344.52">30</text>
<text x="30.4" y="355.32">boss_demo</text>
<text x="77.8" y="355.32" textLength="20.2" lengthAdjust="spacingAndGlyphs">7600X</text>
<text x="111.4" y="355.32" textLength="23.2" lengthAdjust="spacingAndGlyphs">60,6 ns</text>
<text x="148.2" y="355.32">5600 MT/s</text>
<text x="187.1" y="355.32">2200 MHz</text>
<text x="242.5" y="355.32" class="l" textLength="50.0" lengthAdjust="spacingAndGlyphs">30-33-30-30-94</text>
<text x="308.5" y="355.32" text-anchor="end" textLength="20.8" lengthAdjust="spacingAndGlyphs">2x8GB</text>
<text x="327.2" y="355.32" textLength="16.0" lengthAdjust="spacingAndGlyphs">S16B</text>
<text x="346.0" y="355.32" text-anchor="start" textLength="49.9" lengthAdjust="spacingAndGlyphs">PSD58G480041</text>
<text x="471.7" y="355.32" text-anchor="end" textLength="39.1" lengthAdjust="spacingAndGlyphs">69160 MB/s</text>
<text x="519.8" y="355.32" text-anchor="end" textLength="39.1" lengthAdjust="spacingAndGlyphs">82081 MB/s</text>
<text x="563.2" y="355.32" text-anchor="end" textLength="39.1" lengthAdjust="spacingAndGlyphs">68070 MB/s</text>
<text x="587.8" y="355.32" textLength="37.0" lengthAdjust="spacingAndGlyphs">223,1 MB/s</text>
<text x="627.5" y="355.32" class="v" textLength="24.4" lengthAdjust="spacingAndGlyphs">1,290 V</text>
<text x="661.0" y="355.32" class="v" textLength="24.4" lengthAdjust="spacingAndGlyphs">1,150 V</text>
<text x="694.5" y="355.32" class="v" textLength="24.4" lengthAdjust="spacingAndGlyphs">1,400 V</text>
<text x="728.5" y="355.32" class="v" textLength="24.4" lengthAdjust="spacingAndGlyphs">1,400 V</text>
<text x="762.4" y="355.32" class="v" textLength="24.4" lengthAdjust="spacingAndGlyphs">1,400 V</text>
<text x="796.0" y="355.32" class="v" textLength="24.4" lengthAdjust="spacingAndGlyphs">1,800 V</text>
<text x="828.5" y="355.32" class="v" textLength="24.4" lengthAdjust="spacingAndGlyphs">1,250 V</text>
<text x="859.9" y="355.32" class="v" textLength="24.4" lengthAdjust="spacingAndGlyphs">0,850 V</text>
<text x="891.0" y="355.32">-</text>
<text x="922.0" y="355.32" class="v" textLength="24.4" lengthAdjust="spacingAndGlyphs">0,850 V</text>
<text x="953.0" y="355.32">-</text>
<text x="987.5" y="355.32" class="v">48,0 Ω</text>
<text x="1025.5" y="355.32" class="v">40,0 Ω</text>
<text x="1063.4" y="355.32" class="v">60,0 Ω</text>
<text x="1097.5" y="355.32">7</text>
<text x="1128.6" y="355.32">0</text>
<text x="1159.7" y="355.32">0</text>
<text x="1190.5" y="355.32">5</text>
<text x="1221.5" y="355.32">6</text>
<text x="1255.8" y="355.32">30</text>
<text x="30.4" y="366.12" textLength="45.3" lengthAdjust="spacingAndGlyphs">OldZockerGuy</text>
<text x="77.8" y="366.12" textLength="20.2" lengthAdjust="spacingAndGlyphs">7600X</text>
<text x="111.4" y="366.12" textLength="23.2" lengthAdjust="spacingAndGlyphs">64,0 ns</text>
<text x="148.2" y="366.12">6200 MT/s</text>
<text x="187.1" y="366.12">2167 MHz</text>
<text x="242.5" y="366.12" class="l" textLength="54.1" lengthAdjust="spacingAndGlyphs">36-36-36-36-132</text>
<text x="308.5" y="366.12" text-anchor="end" textLength="24.9" lengthAdjust="spacingAndGlyphs">2x16GB</text>
<text x="327.2" y="366.12" textLength="16.0" lengthAdjust="spacingAndGlyphs">S16B</text>
<text x="346.0" y="366.12" text-anchor="start" textLength="61.6" lengthAdjust="spacingAndGlyphs">F5-6000J3636F16G</text>
<text x="471.7" y="366.12" text-anchor="end" textLength="39.1" lengthAdjust="spacingAndGlyphs">64196 MB/s</text>
<text x="519.8" y="366.12" text-anchor="end" textLength="39.1" lengthAdjust="spacingAndGlyphs">84656 MB/s</text>
<text x="563.2" y="366.12" text-anchor="end" textLength="39.1" lengthAdjust="spacingAndGlyphs">64377 MB/s</text>
<text x="587.8" y="366.12" textLength="37.0" lengthAdjust="spacingAndGlyphs">237,0 MB/s</text>
<text x="661.0" y="366.12" class="v" textLength="24.4" lengthAdjust="spacingAndGlyphs">1,150 V</text>
<text x="694.5" y="366.12">-</text>
<text x="728.5" y="366.12" class="v" textLength="24.4" lengthAdjust="spacingAndGlyphs">1,400 V</text>
<text x="762.4" y="366.12" class="v" textLength="24.4" lengthAdjust="spacingAndGlyphs">1,380 V</text>
<text x="828.5" y="366.12" class="v" textLength="24.4" lengthAdjust="spacingAndGlyphs">1,100 V</text>
<text x="859.9" y="366.12" class="v" textLength="24.4" lengthAdjust="spacingAndGlyphs">1,150 V</text>
<text x="891.0" y="366.12">-</text>
<text x="922.0" y="366.12" class="v" textLength="24.4" lengthAdjust="spacingAndGlyphs">1,150 V</text>
<text x="953.0" y="366.12">-</text>
<text x="987.5" y="366.12" class="v">48,0 Ω</text>
<text x="1025.5" y="366.12" class="v">40,0 Ω</text>
<text x="1063.4" y="366.12" class="v">40,0 Ω</text>
<text x="1097.5" y="366.12">6</text>
<text x="1128.6" y="366.12">0</text>
<text x="1159.7" y="366.12">0</text>
<text x="1190.5" y="366.12">6</text>
<text x="1221.5" y="366.12">5</text>
<text x="1255.8" y="366.12">30</text>
<text x="30.4" y="376.92" textLength="19.6" lengthAdjust="spacingAndGlyphs">Reous</text>
<text x="77.8" y="376.92" textLength="20.2" lengthAdjust="spacingAndGlyphs">7600X</text>
<text x="111.4" y="376.92" textLength="23.2" lengthAdjust="spacingAndGlyphs">65,1 ns</text>
<text x="148.2" y="376.92">5800 MT/s</text>
<text x="187.1" y="376.92">2200 MHz</text>
<text x="242.5" y="376.92" textLength="54.1" lengthAdjust="spacingAndGlyphs">34-41-41-63-110</text>
<text x="308.5" y="376.92" text-anchor="end" textLength="20.8" lengthAdjust="spacingAndGlyphs">2x8GB</text>
<text x="327.2" y="376.92" textLength="19.5" lengthAdjust="spacingAndGlyphs">M16A</text>
<text x="346.0" y="376.92" text-anchor="start" textLength="42.7" lengthAdjust="spacingAndGlyphs">KF552C40-32</text>
<text x="471.7" y="376.92" text-anchor="end" textLength="39.1" lengthAdjust="spacingAndGlyphs">64084 MB/s</text>
<text x="519.8" y="376.92" text-anchor="end" textLength="39.1" lengthAdjust="spacingAndGlyphs">70628 MB/s</text>
<text x="563.2" y="376.92" text-anchor="end" textLength="39.1" lengthAdjust="spacingAndGlyphs">62613 MB/s</text>
<text x="587.8" y="376.92" textLength="37.0" lengthAdjust="spacingAndGlyphs">190,0 MB/s</text>
<text x="627.5" y="376.92" class="v" textLength="24.4" lengthAdjust="spacingAndGlyphs">1,150 V</text>
<text x="661.0" y="376.92" class="v" textLength="24.4" lengthAdjust="spacingAndGlyphs">1,000 V</text>
<text x="728.5" y="376.92" class="v" textLength="24.4" lengthAdjust="spacingAndGlyphs">1,250 V</text>
<text x="762.4" y="376.92" class="v" textLength="24.4" lengthAdjust="spacingAndGlyphs">1,250 V</text>
<text x="796.0" y="376.92" class="v" textLength="24.4" lengthAdjust="spacingAndGlyphs">1,750 V</text>
<text x="828.5" y="376.92" class="v" textLength="24.4" lengthAdjust="spacingAndGlyphs">1,100 V</text>
<text x="859.9" y="376.92" class="v" textLength="24.4" lengthAdjust="spacingAndGlyphs">0,850 V</text>
<text x="891.0" y="376.92">-</text>
<text x="922.0" y="376.92" class="v" textLength="24.4" lengthAdjust="spacingAndGlyphs">0,850 V</text>
<text x="953.0" y="376.92">-</text>
<text x="987.5" y="376.92" class="v">48,0 Ω</text>
<text x="1025.5" y="376.92" class="v">40,0 Ω</text>
<text x="1063.4" y="376.92" class="v">30,0 Ω</text>
<text x="1097.5" y="376.92">6</text>
<text x="1128.6" y="376.92">7</text>
<text x="1159.7" y="376.92">7</text>
<text x="1190.5" y="376.92">5</text>
<text x="1221.5" y="376.92">6</text>
<text x="1255.8" y="376.92">30</text>
<text x="30.4" y="387.72" textLength="19.6" lengthAdjust="spacingAndGlyphs">Reous</text>
<text x="77.8" y="387.72" textLength="20.2" lengthAdjust="spacingAndGlyphs">7600X</text>
<text x="111.4" y="387.72" textLength="23.2" lengthAdjust="spacingAndGlyphs">65,7 ns</text>
<text x="148.2" y="387.72">5600 MT/s</text>
<text x="187.1" y="387.72">2200 MHz</text>
<text x="242.5" y="387.72" class="l" textLength="50.0" lengthAdjust="spacingAndGlyphs">34-41-41-54-86</text>
<text x="308.5" y="387.72" text-anchor="end" textLength="20.8" lengthAdjust="spacingAndGlyphs">2x8GB</text>
<text x="327.2" y="387.72" textLength="19.5" lengthAdjust="spacingAndGlyphs">M16A</text>
<text x="346.0" y="387.72" text-anchor="start" textLength="42.7" lengthAdjust="spacingAndGlyphs">KF552C40-32</text>
<text x="471.7" y="387.72" text-anchor="end" textLength="39.1" lengthAdjust="spacingAndGlyphs">63747 MB/s</text>
<text x="519.8" y="387.72" text-anchor="end" textLength="39.1" lengthAdjust="spacingAndGlyphs">67499 MB/s</text>
<text x="563.2" y="387.72" text-anchor="end" textLength="39.1" lengthAdjust="spacingAndGlyphs">61652 MB/s</text>
<text x="587.8" y="387.72" textLength="37.0" lengthAdjust="spacingAndGlyphs">185,0 MB/s</text>
<text x="627.5" y="387.72" class="v" textLength="24.4" lengthAdjust="spacingAndGlyphs">1,100 V</text>
<text x="661.0" y="387.72" class="v" textLength="24.4" lengthAdjust="spacingAndGlyphs">1,000 V</text>
<text x="694.5" y="387.72" class="v" textLength="24.4" lengthAdjust="spacingAndGlyphs">1,220 V</text>
<text x="728.5" y="387.72" class="v" textLength="24.4" lengthAdjust="spacingAndGlyphs">1,225 V</text>
<text x="762.4" y="387.72" class="v" textLength="24.4" lengthAdjust="spacingAndGlyphs">1,225 V</text>
<text x="828.5" y="387.72" class="v" textLength="24.4" lengthAdjust="spacingAndGlyphs">1,100 V</text>
<text x="859.9" y="387.72" class="v" textLength="24.4" lengthAdjust="spacingAndGlyphs">0,850 V</text>
<text x="891.0" y="387.72">-</text>
<text x="922.0" y="387.72" class="v" textLength="24.4" lengthAdjust="spacingAndGlyphs">0,850 V</text>
<text x="953.0" y="387.72">-</text>
<text x="987.5" y="387.72" class="v">48,0 Ω</text>
<text x="1025.5" y="387.72" class="v">40,0 Ω</text>
<text x="1063.4" y="387.72" class="v">28,2 Ω</text>
<text x="1097.5" y="387.72">7</text>
<text x="1128.6" y="387.72">0</text>
<text x="1159.7" y="387.72">0</text>
<text x="1190.5" y="387.72">5</text>
<text x="1221.5" y="387.72">6</text>
<text x="1255.8" y="387.72">30</text>
<text x="30.4" y="408.41" textLength="44.3" lengthAdjust="spacingAndGlyphs">Domdtxdissar</text>
<text x="77.8" y="408.41" textLength="20.2" lengthAdjust="spacingAndGlyphs">7950X</text>
<text x="111.4" y="408.41" textLength="23.2" lengthAdjust="spacingAndGlyphs">50,8 ns</text>
<text x="148.2" y="408.41">6500 MT/s</text>
<text x="187.1" y="408.41">2166 MHz</text>
<text x="242.5" y="408.41" class="l" textLength="50.0" lengthAdjust="spacingAndGlyphs">28-38-38-28-38</text>
<text x="308.5" y="408.41" text-anchor="end" textLength="24.9" lengthAdjust="spacingAndGlyphs">2x16GB</text>
<text x="327.2" y="408.41" class="u" textLength="19.8" lengthAdjust="spacingAndGlyphs">H16M</text>
<text x="346.0" y="408.41" text-anchor="start" class="u" textLength="79.8" lengthAdjust="spacingAndGlyphs">CMK32GX5M2X6600C32</text>
<text x="471.7" y="408.41" text-anchor="end" textLength="39.1" lengthAdjust="spacingAndGlyphs">96215 MB/s</text>
<text x="519.8" y="408.41" text-anchor="end" textLength="43.1" lengthAdjust="spacingAndGlyphs">100652 MB/s</text>
<text x="563.2" y="408.41" text-anchor="end" textLength="39.1" lengthAdjust="spacingAndGlyphs">87091 MB/s</text>
<text x="587.8" y="408.41" textLength="37.0" lengthAdjust="spacingAndGlyphs">299,9 MB/s</text>
<text x="627.5" y="408.41" class="v" textLength="24.4" lengthAdjust="spacingAndGlyphs">1,375 V</text>
<text x="661.0" y="408.41" class="v" textLength="24.4" lengthAdjust="spacingAndGlyphs">1,150 V</text>
<text x="694.5" y="408.41" class="v" textLength="24.4" lengthAdjust="spacingAndGlyphs">1,560 V</text>
<text x="728.5" y="408.41" class="v" textLength="24.4" lengthAdjust="spacingAndGlyphs">1,560 V</text>
<text x="762.4" y="408.41" class="v" textLength="24.4" lengthAdjust="spacingAndGlyphs">1,560 V</text>
<text x="796.0" y="408.41" class="v" textLength="24.4" lengthAdjust="spacingAndGlyphs">1,800 V</text>
<text x="828.5" y="408.41" class="v" textLength="24.4" lengthAdjust="spacingAndGlyphs">1,100 V</text>
<text x="859.9" y="408.41" class="v" textLength="24.4" lengthAdjust="spacingAndGlyphs">0,850 V</text>
<text x="891.0" y="408.41" class="v" textLength="24.4" lengthAdjust="spacingAndGlyphs">0,850 V</text>
<text x="922.0" y="408.41" class="v" textLength="24.4" lengthAdjust="spacingAndGlyphs">0,850 V</text>
<text x="953.0" y="408.41" class="v" textLength="24.4" lengthAdjust="spacingAndGlyphs">0,850 V</text>
<text x="987.5" y="408.41" class="v">48,0 Ω</text>
<text x="1025.5" y="408.41" class="v">34,3 Ω</text>
<text x="1063.4" y="408.41" class="v">48,0 Ω</text>
<text x="1097.5" y="408.41">6</text>
<text x="1128.6" y="408.41">3</text>
<text x="1159.7" y="408.41">3</text>
<text x="1190.5" y="408.41">6</text>
<text x="1221.5" y="408.41">5</text>
<text x="1255.8" y="408.41">30</text>
</g></g>
<rect x="1278.30" y="39.10" width="2.00" height="12.25" fill="#FFF2CC"/>
<rect x="1278.30" y="459.90" width="2.00" height="12.95" fill="#FFF2CC"/>
<rect x="205.6" y="76.1" width="73.5" height="13.1" fill="none" stroke="#3c7fe0" stroke-width="0.9" stroke-dasharray="2 1.6"/>
<rect x="0.00" y="448.75" width="1280.00" height="1.20" fill="#3d9a5d"/>
<rect x="429.40" y="39.00" width="1.20" height="439.00" fill="#484848"/>
<rect x="564.45" y="39.00" width="0.90" height="439.00" fill="#484848"/>
<rect x="677.00" y="39.00" width="1.20" height="439.00" fill="#484848"/>
<rect x="812.00" y="39.00" width="1.20" height="439.00" fill="#484848"/>
<rect x="967.80" y="39.00" width="1.20" height="439.00" fill="#484848"/>
<rect x="1081.60" y="39.00" width="1.20" height="439.00" fill="#484848"/>
<rect x="1273.90" y="39.00" width="1.20" height="439.00" fill="#484848"/>
<rect x="0.00" y="0.00" width="1280.00" height="3.20" fill="#404040"/>
<rect x="0.00" y="3.20" width="1280.00" height="23.90" fill="#dcdcdc"/>
<rect x="0.00" y="36.60" width="1280.00" height="1.40" fill="#d0d4e4"/>
<rect x="0.00" y="38.00" width="1280.00" height="1.10" fill="#e6e8f1"/>
<rect x="60.30" y="3.00" width="1.00" height="24.10" fill="#c6c6c6"/>
<rect x="93.20" y="3.00" width="1.00" height="24.10" fill="#c6c6c6"/>
<rect x="127.70" y="3.00" width="1.00" height="24.10" fill="#c6c6c6"/>
<rect x="167.10" y="3.00" width="1.00" height="24.10" fill="#c6c6c6"/>
<rect x="206.00" y="3.00" width="1.00" height="24.10" fill="#c6c6c6"/>
<rect x="278.00" y="3.00" width="1.00" height="24.10" fill="#c6c6c6"/>
<rect x="310.10" y="3.00" width="1.00" height="24.10" fill="#c6c6c6"/>
<rect x="343.30" y="3.00" width="1.00" height="24.10" fill="#c6c6c6"/>
<rect x="472.90" y="15.40" width="1.00" height="11.70" fill="#c6c6c6"/>
<rect x="521.00" y="15.40" width="1.00" height="11.70" fill="#c6c6c6"/>
<rect x="610.10" y="3.00" width="1.00" height="24.10" fill="#c6c6c6"/>
<rect x="644.00" y="3.00" width="1.00" height="24.10" fill="#c6c6c6"/>
<rect x="711.00" y="3.00" width="1.00" height="24.10" fill="#c6c6c6"/>
<rect x="744.90" y="3.00" width="1.00" height="24.10" fill="#c6c6c6"/>
<rect x="778.90" y="3.00" width="1.00" height="24.10" fill="#c6c6c6"/>
<rect x="843.90" y="3.00" width="1.00" height="24.10" fill="#c6c6c6"/>
<rect x="874.90" y="15.40" width="1.00" height="11.70" fill="#c6c6c6"/>
<rect x="906.00" y="15.40" width="1.00" height="11.70" fill="#c6c6c6"/>
<rect x="937.00" y="15.40" width="1.00" height="11.70" fill="#c6c6c6"/>
<rect x="1006.00" y="3.00" width="1.00" height="24.10" fill="#c6c6c6"/>
<rect x="1044.10" y="3.00" width="1.00" height="24.10" fill="#c6c6c6"/>
<rect x="1112.30" y="15.40" width="1.00" height="11.70" fill="#c6c6c6"/>
<rect x="1143.90" y="15.40" width="1.00" height="11.70" fill="#c6c6c6"/>
<rect x="1174.50" y="15.40" width="1.00" height="11.70" fill="#c6c6c6"/>
<rect x="1205.50" y="15.40" width="1.00" height="11.70" fill="#c6c6c6"/>
<rect x="1236.50" y="3.00" width="1.00" height="24.10" fill="#c6c6c6"/>
<rect x="430.00" y="15.00" width="134.90" height="0.90" fill="#cfcfcf"/>
<rect x="844.40" y="15.00" width="124.00" height="0.90" fill="#cfcfcf"/>
<rect x="1082.20" y="15.00" width="154.80" height="0.90" fill="#cfcfcf"/>
<rect x="1237.00" y="15.00" width="37.50" height="0.90" fill="#cfcfcf"/>
<rect x="0.00" y="26.80" width="1280.00" height="1.90" fill="#1d5c30"/>
<rect x="0.00" y="28.60" width="1280.00" height="8.10" fill="#424242"/>
<rect x="60.30" y="28.60" width="1.00" height="8.10" fill="#5c5c5c"/>
<rect x="93.20" y="28.60" width="1.00" height="8.10" fill="#5c5c5c"/>
<rect x="127.70" y="28.60" width="1.00" height="8.10" fill="#5c5c5c"/>
<rect x="167.10" y="28.60" width="1.00" height="8.10" fill="#5c5c5c"/>
<rect x="206.00" y="28.60" width="1.00" height="8.10" fill="#5c5c5c"/>
<rect x="278.00" y="28.60" width="1.00" height="8.10" fill="#5c5c5c"/>
<rect x="310.10" y="28.60" width="1.00" height="8.10" fill="#5c5c5c"/>
<rect x="343.30" y="28.60" width="1.00" height="8.10" fill="#5c5c5c"/>
<rect x="472.90" y="28.60" width="1.00" height="8.10" fill="#2f7a3a"/>
<rect x="521.00" y="28.60" width="1.00" height="8.10" fill="#2f7a3a"/>
<rect x="610.10" y="28.60" width="1.00" height="8.10" fill="#5c5c5c"/>
<rect x="644.00" y="28.60" width="1.00" height="8.10" fill="#5c5c5c"/>
<rect x="711.00" y="28.60" width="1.00" height="8.10" fill="#5c5c5c"/>
<rect x="744.90" y="28.60" width="1.00" height="8.10" fill="#5c5c5c"/>
<rect x="778.90" y="28.60" width="1.00" height="8.10" fill="#5c5c5c"/>
<rect x="843.90" y="28.60" width="1.00" height="8.10" fill="#5c5c5c"/>
<rect x="874.90" y="28.60" width="1.00" height="8.10" fill="#5c5c5c"/>
<rect x="906.00" y="28.60" width="1.00" height="8.10" fill="#5c5c5c"/>
<rect x="937.00" y="28.60" width="1.00" height="8.10" fill="#5c5c5c"/>
<rect x="1006.00" y="28.60" width="1.00" height="8.10" fill="#5c5c5c"/>
<rect x="1044.10" y="28.60" width="1.00" height="8.10" fill="#5c5c5c"/>
<rect x="1112.30" y="28.60" width="1.00" height="8.10" fill="#5c5c5c"/>
<rect x="1143.90" y="28.60" width="1.00" height="8.10" fill="#5c5c5c"/>
<rect x="1174.50" y="28.60" width="1.00" height="8.10" fill="#5c5c5c"/>
<rect x="1205.50" y="28.60" width="1.00" height="8.10" fill="#5c5c5c"/>
<rect x="1236.50" y="28.60" width="1.00" height="8.10" fill="#5c5c5c"/>
<rect x="429.10" y="3.20" width="1.80" height="23.80" fill="#626262"/>
<rect x="429.20" y="27.00" width="1.60" height="9.70" fill="#222222"/>
<rect x="564.00" y="3.20" width="1.80" height="23.80" fill="#626262"/>
<rect x="564.10" y="27.00" width="1.60" height="9.70" fill="#222222"/>
<rect x="676.70" y="3.20" width="1.80" height="23.80" fill="#626262"/>
<rect x="676.80" y="27.00" width="1.60" height="9.70" fill="#222222"/>
<rect x="811.70" y="3.20" width="1.80" height="23.80" fill="#626262"/>
<rect x="811.80" y="27.00" width="1.60" height="9.70" fill="#222222"/>
<rect x="967.50" y="3.20" width="1.80" height="23.80" fill="#626262"/>
<rect x="967.60" y="27.00" width="1.60" height="9.70" fill="#222222"/>
<rect x="1081.30" y="3.20" width="1.80" height="23.80" fill="#626262"/>
<rect x="1081.40" y="27.00" width="1.60" height="9.70" fill="#222222"/>
<rect x="1273.60" y="3.20" width="1.80" height="23.80" fill="#626262"/>
<rect x="1273.70" y="27.00" width="1.60" height="9.70" fill="#222222"/>
<g font-weight="700" font-size="7.45" fill="#1a1a1a" filter="url(#b)">
<text x="30.4" y="18.3">Name</text>
<text x="77.2" y="18.3">CPU</text>
<text x="110.9" y="18.3">Latency</text>
<text x="147.9" y="18.3">MT/s</text>
<text x="187.1" y="18.3">FCLK</text>
<text x="242.5" y="18.3">Timings</text>
<text x="294.6" y="18.3">DIMMs</text>
<text x="327.2" y="18.3">IC-Type</text>
<text x="386.9" y="18.3">RAM</text>
<text x="627.5" y="18.3">SOC</text>
<text x="694.5" y="18.3">VDDIO</text>
<text x="987.5" y="18.3">DramDDS</text>
<text x="1025.5" y="18.3">ProcDDS</text>
<text x="1063.4" y="18.3">ProcODT</text>
<text x="587.8" y="13.5">Karhu-</text>
<text x="587.8" y="22.5">Durchsatz</text>
<text x="661.0" y="13.5" font-weight="400" stroke="#1a1a1a" stroke-width="0.15">CLDO</text>
<text x="661.0" y="22.5">VDDP</text>
<text x="728.5" y="13.5" font-weight="400" stroke="#1a1a1a" stroke-width="0.15">MEM</text>
<text x="728.5" y="22.5">VDD</text>
<text x="762.4" y="13.5" font-weight="400" stroke="#1a1a1a" stroke-width="0.15">MEM</text>
<text x="762.4" y="22.5">VDDQ</text>
<text x="796.0" y="13.5" font-weight="400" stroke="#1a1a1a" stroke-width="0.15">MEM</text>
<text x="796.0" y="22.5">VPP</text>
<text x="828.5" y="13.5">VDD</text>
<text x="828.5" y="22.5">Misc</text>
<text x="497.4" y="12.3">AIDA64 Cache &amp; Memory</text>
<text x="891.0" y="12.3">VDDG</text>
<text x="1159.6" y="12.3">RTT</text>
<text x="1255.8" y="12.3">CAD</text>
<text x="451.7" y="24.0">Read</text>
<text x="497.4" y="24.0">Write</text>
<text x="543.2" y="24.0">Copy</text>
<text x="859.9" y="24.0">CCD0</text>
<text x="891.0" y="24.0">CCD1</text>
<text x="922.0" y="24.0">IOD0</text>
<text x="953.0" y="24.0">IOD1</text>
<text x="1097.5" y="24.0">Wr</text>
<text x="1128.6" y="24.0">NomWr</text>
<text x="1159.7" y="24.0">NomRd</text>
<text x="1190.5" y="24.0">ParkDqs</text>
<text x="1221.5" y="24.0">Park</text>
<text x="1255.8" y="24.0">AddrCmd</text>
</g>
<path d="M274.8 2.8H278.0V6z" fill="#111"/>
<path d="M340.1 2.8H343.3V6z" fill="#111"/>
<path d="M606.9 2.8H610.1V6z" fill="#111"/>
</svg>
</body></html>
